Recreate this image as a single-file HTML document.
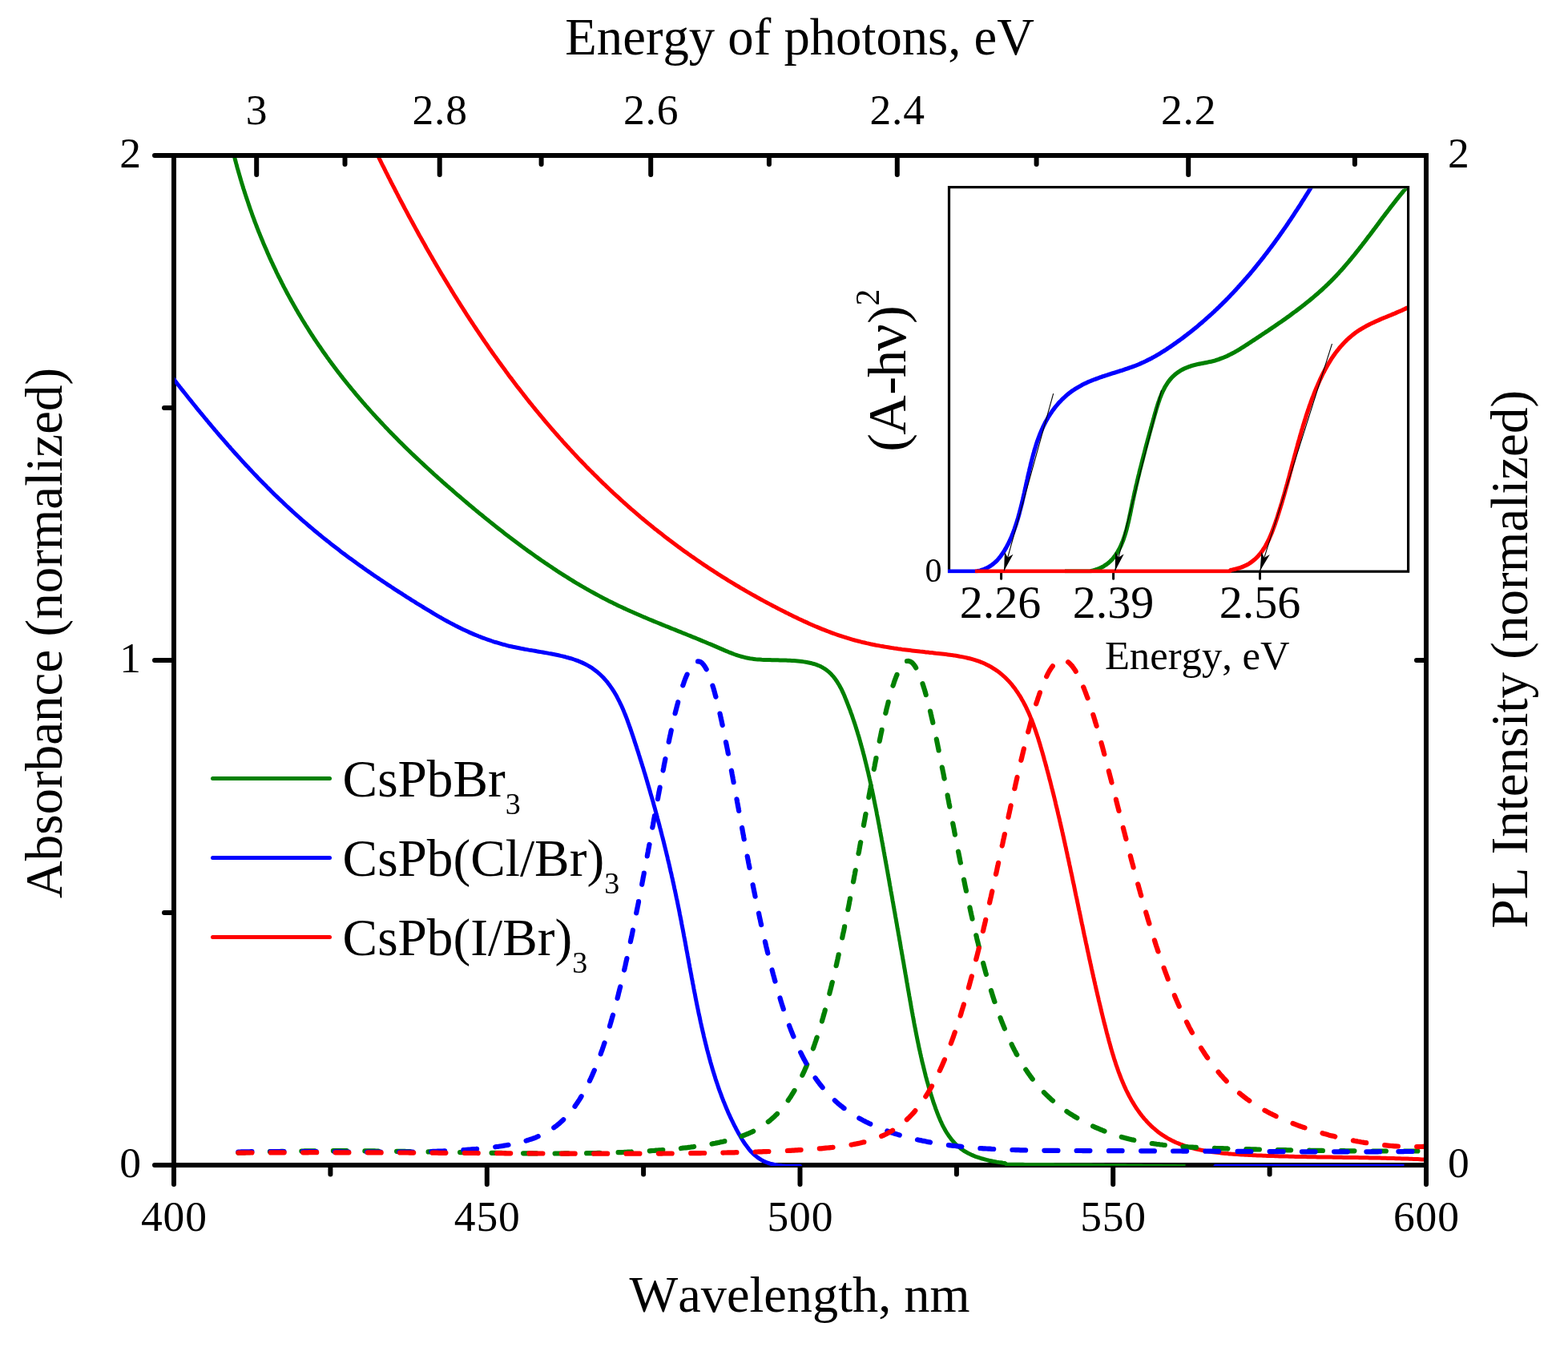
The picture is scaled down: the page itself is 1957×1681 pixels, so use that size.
<!DOCTYPE html>
<html lang="en"><head><meta charset="utf-8"><title>Absorbance and PL spectra</title>
<style>
html,body{margin:0;padding:0;background:#fff;overflow:hidden}
svg{display:block}
text{font-family:"Liberation Serif","DejaVu Serif",serif;fill:#000;font-kerning:none;font-variant-ligatures:none}
.ax{stroke:#000;stroke-width:6;fill:none;stroke-linecap:round}
.c{fill:none;stroke-width:5;stroke-linejoin:round;stroke-linecap:butt}
.d{fill:none;stroke-width:6.2;stroke-linejoin:round;stroke-linecap:round}
.i{fill:none;stroke-width:5.2;stroke-linejoin:round;stroke-linecap:butt}
</style></head><body>
<svg width="1957" height="1681" viewBox="0 0 1957 1681" role="img" aria-label="Absorbance and photoluminescence spectra of CsPbBr3, CsPb(Cl/Br)3 and CsPb(I/Br)3 nanocrystals with Tauc-plot inset">
<rect width="1957" height="1681" fill="#fff"/>
<defs>
<clipPath id="cp"><rect x="218" y="197" width="1559" height="1258"/></clipPath>
<clipPath id="ci"><rect x="1183" y="235.2" width="573" height="480"/></clipPath>
</defs>

<rect x="217" y="194" width="1563" height="1260" fill="none" stroke="#000" stroke-width="6" stroke-linejoin="miter"/>
<path class="ax" d="M217,194H193M217,824H193M217,1454H193M217,509H205M217,1139H205M217.0,1454V1478M607.8,1454V1478M998.5,1454V1478M1389.2,1454V1478M1780.0,1454V1478M412.4,1454V1465.5M803.1,1454V1465.5M1193.9,1454V1465.5M1584.6,1454V1465.5M320.2,194V218M548.7,194V218M812.2,194V218M1119.8,194V218M1483.2,194V218M430.5,194V205M675.6,194V205M959.9,194V205M1293.6,194V205M1690.9,194V205M1780,824H1768"/>
<g clip-path="url(#cp)">
<path class="c" stroke="#008000" d="M291.5,191.8 L292.2,194.2 L292.8,196.6 L293.4,199.0 L294.1,201.5 L294.7,203.9 L295.4,206.3 L296.0,208.7 L296.7,211.1 L297.4,213.5 L298.1,216.0 L298.8,218.4 L299.5,220.8 L300.2,223.2 L300.9,225.6 L301.6,228.0 L302.3,230.4 L303.1,232.8 L303.8,235.2 L304.6,237.5 L305.3,239.9 L306.1,242.3 L306.9,244.7 L307.7,247.1 L308.5,249.5 L309.3,251.8 L310.1,254.2 L310.9,256.6 L311.7,259.0 L312.5,261.3 L313.4,263.7 L314.2,266.0 L315.0,268.4 L315.9,270.8 L316.8,273.1 L317.6,275.5 L318.5,277.8 L319.4,280.1 L320.3,282.5 L321.2,284.8 L322.1,287.2 L323.0,289.5 L324.0,291.8 L324.9,294.1 L325.9,296.5 L326.8,298.8 L327.8,301.1 L328.7,303.4 L329.7,305.7 L330.7,308.0 L331.7,310.3 L332.7,312.6 L333.7,314.9 L334.7,317.2 L335.7,319.5 L336.7,321.8 L337.8,324.1 L338.8,326.4 L339.9,328.6 L340.9,330.9 L342.0,333.2 L343.1,335.4 L344.2,337.7 L345.2,340.0 L346.3,342.2 L347.4,344.5 L348.6,346.7 L349.7,348.9 L350.8,351.2 L351.9,353.4 L353.1,355.6 L354.2,357.9 L355.4,360.1 L356.6,362.3 L357.7,364.5 L358.9,366.7 L360.1,368.9 L361.3,371.1 L362.5,373.3 L363.7,375.5 L365.0,377.7 L366.2,379.9 L367.4,382.1 L368.7,384.3 L369.9,386.4 L371.2,388.6 L372.4,390.8 L373.7,392.9 L375.0,395.1 L376.3,397.2 L377.6,399.4 L378.9,401.5 L380.2,403.6 L381.5,405.8 L382.9,407.9 L384.2,410.0 L385.5,412.1 L386.9,414.3 L388.2,416.4 L389.6,418.5 L391.0,420.6 L392.3,422.7 L393.7,424.7 L395.1,426.8 L396.5,428.9 L397.9,431.0 L399.4,433.0 L400.8,435.1 L402.2,437.2 L403.6,439.2 L405.1,441.3 L406.5,443.3 L408.0,445.4 L409.5,447.4 L410.9,449.4 L412.4,451.4 L413.9,453.5 L415.4,455.5 L416.9,457.5 L418.4,459.5 L419.9,461.5 L421.4,463.5 L422.9,465.5 L424.5,467.4 L426.0,469.4 L427.6,471.4 L429.1,473.4 L430.7,475.3 L432.2,477.3 L433.8,479.2 L435.4,481.2 L437.0,483.1 L438.6,485.1 L440.2,487.0 L441.8,488.9 L443.4,490.9 L445.0,492.8 L446.6,494.7 L448.2,496.6 L449.9,498.5 L451.5,500.4 L453.1,502.3 L454.8,504.2 L456.4,506.1 L458.1,507.9 L459.8,509.8 L461.4,511.7 L463.1,513.6 L464.8,515.4 L466.5,517.3 L468.2,519.1 L469.8,521.0 L471.5,522.8 L473.3,524.6 L475.0,526.5 L476.7,528.3 L478.4,530.1 L480.1,531.9 L481.8,533.8 L483.6,535.6 L485.3,537.4 L487.1,539.2 L488.8,541.0 L490.6,542.8 L492.3,544.6 L494.1,546.3 L495.8,548.1 L497.6,549.9 L499.4,551.7 L501.2,553.4 L503.0,555.2 L504.7,556.9 L506.5,558.7 L508.3,560.5 L510.1,562.2 L511.9,563.9 L513.7,565.7 L515.5,567.4 L517.3,569.1 L519.2,570.9 L521.0,572.6 L522.8,574.3 L524.6,576.0 L526.5,577.7 L528.3,579.4 L530.1,581.1 L532.0,582.8 L533.8,584.5 L535.7,586.2 L537.5,587.9 L539.4,589.6 L541.2,591.3 L543.1,593.0 L545.0,594.7 L546.8,596.3 L548.7,598.0 L550.6,599.7 L552.4,601.3 L554.3,603.0 L556.2,604.6 L558.1,606.3 L560.0,607.9 L561.9,609.6 L563.8,611.2 L565.7,612.9 L567.5,614.5 L569.4,616.2 L571.3,617.8 L573.3,619.4 L575.2,621.0 L577.1,622.7 L579.0,624.3 L580.9,625.9 L582.8,627.5 L584.7,629.1 L586.6,630.8 L588.6,632.4 L590.5,634.0 L592.4,635.6 L594.3,637.2 L596.3,638.8 L598.2,640.4 L600.2,641.9 L602.1,643.5 L604.0,645.1 L606.0,646.7 L607.9,648.3 L609.9,649.8 L611.8,651.4 L613.8,653.0 L615.7,654.5 L617.7,656.1 L619.7,657.7 L621.6,659.2 L623.6,660.8 L625.6,662.3 L627.6,663.8 L629.5,665.4 L631.5,666.9 L633.5,668.4 L635.5,670.0 L637.5,671.5 L639.5,673.0 L641.5,674.5 L643.5,676.0 L645.5,677.5 L647.5,679.0 L649.5,680.5 L651.5,682.0 L653.6,683.5 L655.6,685.0 L657.6,686.4 L659.6,687.9 L661.7,689.4 L663.7,690.8 L665.8,692.3 L667.8,693.7 L669.8,695.2 L671.9,696.6 L674.0,698.1 L676.0,699.5 L678.1,700.9 L680.1,702.3 L682.2,703.7 L684.3,705.1 L686.4,706.5 L688.5,707.9 L690.5,709.3 L692.6,710.7 L694.7,712.1 L696.8,713.5 L698.9,714.8 L701.0,716.2 L703.1,717.5 L705.3,718.9 L707.4,720.2 L709.5,721.5 L711.6,722.8 L713.8,724.2 L715.9,725.5 L718.1,726.8 L720.2,728.1 L722.4,729.3 L724.5,730.6 L726.7,731.9 L728.9,733.1 L731.0,734.4 L733.2,735.6 L735.4,736.9 L737.6,738.1 L739.8,739.3 L742.0,740.5 L744.2,741.7 L746.4,742.9 L748.6,744.1 L750.8,745.3 L753.0,746.4 L755.2,747.6 L757.5,748.7 L759.7,749.9 L761.9,751.0 L764.2,752.1 L766.4,753.2 L768.7,754.3 L770.9,755.4 L773.2,756.5 L775.5,757.5 L777.7,758.6 L780.0,759.6 L782.3,760.7 L784.6,761.7 L786.9,762.8 L789.2,763.8 L791.4,764.8 L793.7,765.8 L796.0,766.8 L798.3,767.8 L800.6,768.8 L802.9,769.8 L805.3,770.7 L807.6,771.7 L809.9,772.7 L812.2,773.7 L814.5,774.6 L816.8,775.6 L819.1,776.5 L821.5,777.5 L823.8,778.4 L826.1,779.4 L828.4,780.3 L830.7,781.3 L833.1,782.2 L835.4,783.1 L837.7,784.1 L840.0,785.0 L842.4,785.9 L844.7,786.9 L847.0,787.8 L849.3,788.7 L851.7,789.7 L854.0,790.6 L856.3,791.5 L858.6,792.5 L861.0,793.4 L863.3,794.4 L865.6,795.3 L867.9,796.2 L870.3,797.2 L872.6,798.1 L874.9,799.1 L877.2,800.1 L879.5,801.0 L881.8,802.0 L884.1,803.0 L886.5,803.9 L888.8,804.9 L891.1,805.9 L893.4,806.9 L895.7,807.9 L898.0,808.9 L900.3,809.9 L902.6,810.9 L904.9,811.9 L907.2,812.8 L909.5,813.8 L911.8,814.7 L914.2,815.6 L916.5,816.5 L918.9,817.3 L921.3,818.1 L923.7,818.8 L926.1,819.5 L928.5,820.1 L930.9,820.7 L933.4,821.2 L935.9,821.7 L938.3,822.1 L940.8,822.4 L943.3,822.7 L945.8,822.9 L948.3,823.1 L950.8,823.3 L953.3,823.4 L955.8,823.5 L958.3,823.6 L960.8,823.6 L963.3,823.7 L965.8,823.7 L968.3,823.8 L970.8,823.8 L973.4,823.9 L975.9,823.9 L978.4,824.0 L980.9,824.1 L983.4,824.2 L985.9,824.3 L988.4,824.4 L990.9,824.6 L993.4,824.8 L995.9,825.0 L998.4,825.2 L1000.9,825.5 L1003.3,825.9 L1005.8,826.3 L1008.3,826.7 L1010.7,827.2 L1013.2,827.8 L1015.6,828.5 L1018.0,829.2 L1020.3,830.1 L1022.7,831.0 L1024.9,832.1 L1027.1,833.3 L1029.3,834.6 L1031.3,836.0 L1033.3,837.6 L1035.2,839.2 L1037.0,840.9 L1038.7,842.8 L1040.4,844.7 L1041.9,846.6 L1043.4,848.7 L1044.8,850.7 L1046.1,852.9 L1047.4,855.0 L1048.6,857.2 L1049.8,859.4 L1050.9,861.7 L1051.9,863.9 L1053.0,866.2 L1054.0,868.5 L1054.9,870.8 L1055.9,873.2 L1056.8,875.5 L1057.7,877.8 L1058.6,880.2 L1059.5,882.5 L1060.4,884.8 L1061.3,887.2 L1062.1,889.6 L1063.0,891.9 L1063.8,894.3 L1064.6,896.7 L1065.4,899.0 L1066.2,901.4 L1067.0,903.8 L1067.8,906.2 L1068.5,908.6 L1069.3,911.0 L1070.0,913.3 L1070.7,915.7 L1071.5,918.1 L1072.2,920.5 L1072.9,923.0 L1073.6,925.4 L1074.2,927.8 L1074.9,930.2 L1075.6,932.6 L1076.2,935.0 L1076.9,937.4 L1077.5,939.9 L1078.2,942.3 L1078.8,944.7 L1079.4,947.1 L1080.0,949.6 L1080.6,952.0 L1081.2,954.4 L1081.8,956.9 L1082.4,959.3 L1083.0,961.8 L1083.6,964.2 L1084.1,966.6 L1084.7,969.1 L1085.2,971.5 L1085.8,974.0 L1086.3,976.4 L1086.9,978.9 L1087.4,981.3 L1087.9,983.8 L1088.5,986.2 L1089.0,988.7 L1089.5,991.1 L1090.0,993.6 L1090.5,996.0 L1091.0,998.5 L1091.5,1000.9 L1092.0,1003.4 L1092.5,1005.9 L1093.0,1008.3 L1093.5,1010.8 L1094.0,1013.2 L1094.4,1015.7 L1094.9,1018.2 L1095.4,1020.6 L1095.9,1023.1 L1096.3,1025.5 L1096.8,1028.0 L1097.3,1030.5 L1097.7,1032.9 L1098.2,1035.4 L1098.6,1037.9 L1099.1,1040.3 L1099.5,1042.8 L1100.0,1045.2 L1100.4,1047.7 L1100.9,1050.2 L1101.3,1052.6 L1101.8,1055.1 L1102.2,1057.6 L1102.7,1060.0 L1103.1,1062.5 L1103.6,1065.0 L1104.0,1067.4 L1104.5,1069.9 L1104.9,1072.4 L1105.3,1074.8 L1105.8,1077.3 L1106.2,1079.8 L1106.7,1082.2 L1107.1,1084.7 L1107.6,1087.2 L1108.0,1089.6 L1108.4,1092.1 L1108.9,1094.6 L1109.3,1097.1 L1109.8,1099.5 L1110.2,1102.0 L1110.6,1104.5 L1111.1,1106.9 L1111.5,1109.4 L1111.9,1111.9 L1112.4,1114.3 L1112.8,1116.8 L1113.3,1119.3 L1113.7,1121.7 L1114.1,1124.2 L1114.6,1126.7 L1115.0,1129.1 L1115.4,1131.6 L1115.9,1134.1 L1116.3,1136.5 L1116.8,1139.0 L1117.2,1141.5 L1117.6,1143.9 L1118.1,1146.4 L1118.5,1148.9 L1118.9,1151.3 L1119.4,1153.8 L1119.8,1156.3 L1120.2,1158.8 L1120.7,1161.2 L1121.1,1163.7 L1121.5,1166.2 L1122.0,1168.6 L1122.4,1171.1 L1122.8,1173.6 L1123.3,1176.0 L1123.7,1178.5 L1124.1,1181.0 L1124.5,1183.4 L1125.0,1185.9 L1125.4,1188.4 L1125.8,1190.8 L1126.3,1193.3 L1126.7,1195.8 L1127.1,1198.3 L1127.6,1200.7 L1128.0,1203.2 L1128.4,1205.7 L1128.8,1208.1 L1129.3,1210.6 L1129.7,1213.1 L1130.1,1215.5 L1130.6,1218.0 L1131.0,1220.5 L1131.4,1223.0 L1131.8,1225.4 L1132.3,1227.9 L1132.7,1230.4 L1133.1,1232.8 L1133.5,1235.3 L1134.0,1237.8 L1134.4,1240.2 L1134.8,1242.7 L1135.3,1245.2 L1135.7,1247.6 L1136.1,1250.1 L1136.6,1252.6 L1137.0,1255.1 L1137.4,1257.5 L1137.9,1260.0 L1138.3,1262.5 L1138.8,1264.9 L1139.2,1267.4 L1139.7,1269.8 L1140.1,1272.3 L1140.6,1274.8 L1141.0,1277.2 L1141.5,1279.7 L1142.0,1282.2 L1142.5,1284.6 L1142.9,1287.1 L1143.4,1289.5 L1143.9,1292.0 L1144.4,1294.5 L1144.9,1296.9 L1145.4,1299.4 L1145.9,1301.8 L1146.4,1304.3 L1146.9,1306.7 L1147.4,1309.2 L1148.0,1311.6 L1148.5,1314.1 L1149.1,1316.5 L1149.6,1319.0 L1150.2,1321.4 L1150.7,1323.9 L1151.3,1326.3 L1151.9,1328.7 L1152.5,1331.2 L1153.1,1333.6 L1153.7,1336.0 L1154.3,1338.5 L1154.9,1340.9 L1155.5,1343.3 L1156.2,1345.8 L1156.8,1348.2 L1157.5,1350.6 L1158.2,1353.0 L1158.8,1355.4 L1159.5,1357.8 L1160.3,1360.2 L1161.0,1362.6 L1161.7,1365.0 L1162.4,1367.4 L1163.2,1369.8 L1164.0,1372.2 L1164.7,1374.6 L1165.5,1377.0 L1166.4,1379.3 L1167.2,1381.7 L1168.0,1384.1 L1168.9,1386.4 L1169.8,1388.8 L1170.7,1391.1 L1171.6,1393.4 L1172.6,1395.7 L1173.5,1398.0 L1174.6,1400.3 L1175.6,1402.6 L1176.7,1404.8 L1177.9,1407.1 L1179.1,1409.3 L1180.3,1411.4 L1181.6,1413.6 L1183.0,1415.7 L1184.4,1417.8 L1185.9,1419.8 L1187.4,1421.8 L1189.0,1423.7 L1190.6,1425.6 L1192.4,1427.4 L1194.2,1429.2 L1196.0,1430.8 L1198.0,1432.4 L1199.9,1434.0 L1202.0,1435.4 L1204.1,1436.8 L1206.3,1438.0 L1208.5,1439.2 L1210.7,1440.3 L1213.0,1441.4 L1215.3,1442.4 L1217.6,1443.3 L1220.0,1444.1 L1222.4,1444.9 L1224.8,1445.7 L1227.2,1446.3 L1229.6,1447.0 L1232.0,1447.6 L1234.5,1448.2 L1236.9,1448.7 L1239.4,1449.2 L1241.8,1449.6 L1244.3,1450.1 L1246.8,1450.5 L1249.3,1450.8 L1251.8,1451.2 L1254.2,1451.5 L1256.7,1453.2 L1259.2,1453.2 L1261.7,1453.2 L1264.2,1453.3 L1266.7,1453.3 L1269.2,1453.3 L1271.7,1453.3 L1274.2,1453.3 L1276.7,1453.3 L1279.2,1453.4 L1281.7,1453.4 L1284.2,1453.4 L1286.7,1453.4 L1289.2,1453.4 L1291.7,1453.4 L1294.2,1453.5 L1296.7,1453.5 L1299.2,1453.5 L1301.7,1453.5 L1304.2,1453.5 L1306.7,1453.6 L1309.2,1453.6 L1311.7,1453.6 L1314.2,1453.6 L1316.7,1453.7 L1319.3,1453.7 L1321.8,1453.7 L1324.3,1453.7 L1326.8,1453.8 L1329.3,1453.8 L1331.8,1453.8 L1334.3,1453.8 L1336.8,1453.9 L1339.3,1453.9 L1341.8,1453.9 L1344.3,1453.9 L1346.8,1454.0 L1349.3,1454.0 L1351.8,1454.0 L1354.3,1454.1 L1356.8,1454.1 L1359.4,1454.1 L1361.9,1454.1 L1364.4,1454.2 L1366.9,1454.2 L1369.4,1454.2 L1371.9,1454.3 L1374.4,1454.3 L1376.9,1454.3 L1379.4,1454.4 L1381.9,1454.4 L1384.4,1454.4 L1386.9,1454.4 L1389.4,1454.5 L1391.9,1454.5 L1394.4,1454.5 L1396.9,1454.6 L1399.4,1454.6 L1402.0,1454.6 L1404.5,1454.6 L1407.0,1454.7 L1409.5,1454.7 L1412.0,1454.7 L1414.5,1454.7 L1417.0,1454.8 L1419.5,1454.8 L1422.0,1454.8 L1424.5,1454.8 L1427.0,1454.9 L1429.5,1454.9 L1432.0,1454.9 L1434.5,1454.9 L1437.0,1455.0 L1439.5,1455.0 L1442.1,1455.0 L1444.6,1455.1 L1447.1,1455.1 L1449.6,1455.1 L1452.1,1455.2 L1454.6,1455.2 L1457.1,1455.2 L1459.6,1455.2 L1462.1,1455.3 L1464.6,1455.3 L1467.1,1455.3 L1469.6,1455.4 L1472.1,1455.4 L1474.6,1455.4 L1477.1,1455.5 L1479.6,1455.5"/>
<path class="c" stroke="#0000ff" d="M214.9,470.6 L216.4,472.6 L217.9,474.6 L219.5,476.6 L221.0,478.5 L222.6,480.5 L224.1,482.5 L225.7,484.4 L227.2,486.4 L228.8,488.4 L230.3,490.3 L231.9,492.3 L233.5,494.3 L235.0,496.2 L236.6,498.2 L238.2,500.1 L239.7,502.1 L241.3,504.0 L242.9,506.0 L244.5,507.9 L246.0,509.9 L247.6,511.8 L249.2,513.7 L250.8,515.7 L252.4,517.6 L254.0,519.5 L255.6,521.5 L257.2,523.4 L258.8,525.3 L260.4,527.3 L262.0,529.2 L263.6,531.1 L265.2,533.0 L266.8,534.9 L268.4,536.8 L270.1,538.7 L271.7,540.7 L273.3,542.6 L275.0,544.5 L276.6,546.4 L278.2,548.2 L279.9,550.1 L281.5,552.0 L283.2,553.9 L284.8,555.8 L286.5,557.7 L288.1,559.6 L289.8,561.4 L291.5,563.3 L293.1,565.2 L294.8,567.0 L296.5,568.9 L298.2,570.7 L299.9,572.6 L301.5,574.4 L303.2,576.3 L304.9,578.1 L306.6,580.0 L308.3,581.8 L310.1,583.6 L311.8,585.5 L313.5,587.3 L315.2,589.1 L316.9,590.9 L318.7,592.7 L320.4,594.5 L322.1,596.4 L323.9,598.2 L325.6,599.9 L327.4,601.7 L329.1,603.5 L330.9,605.3 L332.7,607.1 L334.4,608.9 L336.2,610.6 L338.0,612.4 L339.8,614.2 L341.5,615.9 L343.3,617.7 L345.1,619.4 L346.9,621.1 L348.7,622.9 L350.6,624.6 L352.4,626.3 L354.2,628.1 L356.0,629.8 L357.8,631.5 L359.7,633.2 L361.5,634.9 L363.4,636.6 L365.2,638.3 L367.1,640.0 L368.9,641.6 L370.8,643.3 L372.7,645.0 L374.5,646.6 L376.4,648.3 L378.3,650.0 L380.2,651.6 L382.1,653.2 L384.0,654.9 L385.9,656.5 L387.8,658.1 L389.7,659.7 L391.6,661.3 L393.6,663.0 L395.5,664.5 L397.4,666.1 L399.4,667.7 L401.3,669.3 L403.2,670.9 L405.2,672.5 L407.2,674.0 L409.1,675.6 L411.1,677.1 L413.0,678.7 L415.0,680.2 L417.0,681.8 L419.0,683.3 L421.0,684.8 L423.0,686.3 L424.9,687.9 L426.9,689.4 L428.9,690.9 L431.0,692.4 L433.0,693.9 L435.0,695.4 L437.0,696.9 L439.0,698.3 L441.0,699.8 L443.1,701.3 L445.1,702.8 L447.1,704.2 L449.2,705.7 L451.2,707.1 L453.2,708.6 L455.3,710.0 L457.3,711.5 L459.4,712.9 L461.5,714.3 L463.5,715.8 L465.6,717.2 L467.6,718.6 L469.7,720.0 L471.8,721.4 L473.9,722.8 L475.9,724.2 L478.0,725.6 L480.1,727.0 L482.2,728.4 L484.3,729.8 L486.4,731.2 L488.4,732.5 L490.5,733.9 L492.6,735.3 L494.7,736.7 L496.8,738.0 L499.0,739.4 L501.1,740.7 L503.2,742.1 L505.3,743.4 L507.4,744.8 L509.5,746.1 L511.6,747.4 L513.7,748.8 L515.9,750.1 L518.0,751.4 L520.1,752.8 L522.3,754.1 L524.4,755.4 L526.5,756.7 L528.6,758.0 L530.8,759.3 L532.9,760.6 L535.1,761.9 L537.2,763.2 L539.4,764.5 L541.5,765.8 L543.7,767.1 L545.8,768.3 L548.0,769.6 L550.2,770.8 L552.4,772.1 L554.5,773.3 L556.7,774.5 L558.9,775.7 L561.1,776.9 L563.3,778.1 L565.6,779.2 L567.8,780.4 L570.0,781.5 L572.3,782.7 L574.5,783.8 L576.8,784.9 L579.0,786.0 L581.3,787.0 L583.6,788.1 L585.8,789.1 L588.1,790.1 L590.4,791.1 L592.7,792.1 L595.1,793.0 L597.4,794.0 L599.7,794.9 L602.0,795.8 L604.4,796.7 L606.7,797.5 L609.1,798.4 L611.5,799.2 L613.9,800.0 L616.2,800.8 L618.6,801.5 L621.0,802.2 L623.4,802.9 L625.8,803.6 L628.2,804.3 L630.7,804.9 L633.1,805.6 L635.5,806.2 L638.0,806.7 L640.4,807.3 L642.9,807.8 L645.3,808.3 L647.8,808.8 L650.2,809.3 L652.7,809.7 L655.2,810.2 L657.6,810.6 L660.1,811.1 L662.6,811.5 L665.0,811.9 L667.5,812.3 L670.0,812.8 L672.4,813.2 L674.9,813.6 L677.4,814.0 L679.8,814.5 L682.3,814.9 L684.8,815.4 L687.2,815.8 L689.7,816.3 L692.1,816.8 L694.6,817.3 L697.1,817.8 L699.5,818.4 L701.9,818.9 L704.4,819.5 L706.8,820.2 L709.2,820.8 L711.6,821.5 L714.0,822.2 L716.4,823.0 L718.8,823.8 L721.1,824.7 L723.4,825.6 L725.8,826.6 L728.0,827.6 L730.3,828.7 L732.5,829.9 L734.7,831.1 L736.8,832.4 L739.0,833.7 L741.0,835.2 L743.0,836.7 L745.0,838.2 L746.9,839.8 L748.8,841.5 L750.6,843.2 L752.4,845.0 L754.1,846.8 L755.7,848.7 L757.4,850.6 L758.9,852.6 L760.4,854.5 L761.9,856.6 L763.3,858.6 L764.7,860.7 L766.1,862.8 L767.4,865.0 L768.6,867.1 L769.9,869.3 L771.0,871.5 L772.2,873.8 L773.3,876.0 L774.4,878.3 L775.5,880.5 L776.5,882.8 L777.5,885.1 L778.5,887.4 L779.4,889.7 L780.4,892.0 L781.3,894.4 L782.2,896.7 L783.1,899.1 L783.9,901.4 L784.8,903.8 L785.6,906.1 L786.5,908.5 L787.3,910.9 L788.1,913.2 L788.9,915.6 L789.7,918.0 L790.5,920.4 L791.3,922.7 L792.0,925.1 L792.8,927.5 L793.6,929.9 L794.4,932.3 L795.1,934.6 L795.9,937.0 L796.7,939.4 L797.4,941.8 L798.2,944.2 L798.9,946.6 L799.7,949.0 L800.4,951.4 L801.2,953.8 L801.9,956.1 L802.7,958.5 L803.4,960.9 L804.1,963.3 L804.9,965.7 L805.6,968.1 L806.3,970.5 L807.0,972.9 L807.7,975.3 L808.4,977.7 L809.1,980.1 L809.8,982.5 L810.5,984.9 L811.2,987.3 L811.9,989.8 L812.6,992.2 L813.3,994.6 L814.0,997.0 L814.7,999.4 L815.4,1001.8 L816.0,1004.2 L816.7,1006.6 L817.4,1009.0 L818.0,1011.5 L818.7,1013.9 L819.3,1016.3 L820.0,1018.7 L820.6,1021.1 L821.3,1023.6 L821.9,1026.0 L822.6,1028.4 L823.2,1030.8 L823.8,1033.2 L824.5,1035.7 L825.1,1038.1 L825.7,1040.5 L826.3,1042.9 L827.0,1045.4 L827.6,1047.8 L828.2,1050.2 L828.8,1052.7 L829.4,1055.1 L830.0,1057.5 L830.6,1060.0 L831.2,1062.4 L831.8,1064.8 L832.4,1067.3 L833.0,1069.7 L833.5,1072.1 L834.1,1074.6 L834.7,1077.0 L835.3,1079.5 L835.8,1081.9 L836.4,1084.3 L836.9,1086.8 L837.5,1089.2 L838.1,1091.7 L838.6,1094.1 L839.2,1096.6 L839.7,1099.0 L840.2,1101.4 L840.8,1103.9 L841.3,1106.3 L841.8,1108.8 L842.4,1111.2 L842.9,1113.7 L843.4,1116.1 L843.9,1118.6 L844.4,1121.0 L845.0,1123.5 L845.5,1125.9 L846.0,1128.4 L846.5,1130.9 L847.0,1133.3 L847.5,1135.8 L848.0,1138.2 L848.4,1140.7 L848.9,1143.1 L849.4,1145.6 L849.9,1148.1 L850.4,1150.5 L850.8,1153.0 L851.3,1155.4 L851.8,1157.9 L852.3,1160.4 L852.7,1162.8 L853.2,1165.3 L853.6,1167.7 L854.1,1170.2 L854.6,1172.7 L855.0,1175.1 L855.5,1177.6 L855.9,1180.1 L856.4,1182.5 L856.8,1185.0 L857.3,1187.4 L857.8,1189.9 L858.2,1192.4 L858.7,1194.8 L859.1,1197.3 L859.6,1199.8 L860.0,1202.2 L860.5,1204.7 L860.9,1207.2 L861.4,1209.6 L861.8,1212.1 L862.3,1214.5 L862.8,1217.0 L863.2,1219.5 L863.7,1221.9 L864.2,1224.4 L864.6,1226.9 L865.1,1229.3 L865.6,1231.8 L866.0,1234.2 L866.5,1236.7 L867.0,1239.2 L867.5,1241.6 L867.9,1244.1 L868.4,1246.5 L868.9,1249.0 L869.4,1251.4 L869.9,1253.9 L870.4,1256.4 L870.9,1258.8 L871.4,1261.3 L871.9,1263.7 L872.4,1266.2 L873.0,1268.6 L873.5,1271.1 L874.0,1273.5 L874.5,1276.0 L875.1,1278.4 L875.6,1280.9 L876.2,1283.3 L876.7,1285.7 L877.3,1288.2 L877.9,1290.6 L878.4,1293.1 L879.0,1295.5 L879.6,1297.9 L880.2,1300.4 L880.8,1302.8 L881.4,1305.2 L882.0,1307.7 L882.6,1310.1 L883.3,1312.5 L883.9,1314.9 L884.6,1317.4 L885.2,1319.8 L885.9,1322.2 L886.5,1324.6 L887.2,1327.0 L887.9,1329.4 L888.6,1331.8 L889.3,1334.2 L890.0,1336.6 L890.8,1339.0 L891.5,1341.4 L892.3,1343.8 L893.0,1346.2 L893.8,1348.6 L894.6,1351.0 L895.4,1353.3 L896.2,1355.7 L897.0,1358.1 L897.8,1360.4 L898.7,1362.8 L899.6,1365.1 L900.4,1367.5 L901.3,1369.8 L902.2,1372.2 L903.1,1374.5 L904.1,1376.8 L905.0,1379.1 L906.0,1381.5 L906.9,1383.8 L907.9,1386.1 L908.9,1388.4 L909.9,1390.7 L911.0,1392.9 L912.0,1395.2 L913.1,1397.5 L914.2,1399.7 L915.3,1402.0 L916.4,1404.2 L917.6,1406.4 L918.7,1408.7 L919.9,1410.9 L921.1,1413.1 L922.3,1415.3 L923.6,1417.4 L924.8,1419.6 L926.1,1421.7 L927.4,1423.9 L928.8,1426.0 L930.2,1428.1 L931.7,1430.1 L933.2,1432.1 L934.7,1434.1 L936.3,1436.0 L938.0,1437.8 L939.8,1439.6 L941.6,1441.3 L943.6,1442.9 L945.5,1444.4 L947.6,1445.9 L949.7,1447.2 L951.9,1448.4 L954.2,1449.5 L956.5,1450.5 L958.8,1451.3 L961.2,1452.1 L963.6,1452.7 L966.1,1453.3 L968.5,1453.8 L971.0,1454.2 L973.5,1454.5 L976.0,1454.8 L978.5,1455.0 L981.0,1455.2 L983.5,1455.3 L986.0,1455.3 L988.5,1455.3 L991.0,1455.3 L993.5,1455.3 L996.0,1455.3 L998.5,1455.3 L1001.0,1458.5 L1003.5,1458.5 L1006.0,1458.5 L1008.5,1458.5 L1011.0,1458.5 L1013.5,1458.5 L1016.0,1458.5 L1018.5,1458.5 L1021.0,1458.5 L1023.5,1458.5 L1026.0,1458.5 L1028.6,1458.5 L1031.1,1458.5 L1033.6,1458.5 L1036.1,1458.5 L1038.6,1458.5 L1041.1,1458.5 L1043.6,1458.5 L1046.1,1458.5 L1048.6,1458.5 L1051.1,1458.5 L1053.6,1458.5 L1056.1,1458.5 L1058.6,1458.5 L1061.1,1458.5 L1063.6,1458.5 L1066.1,1458.5 L1068.6,1458.5 L1071.1,1458.5 L1073.6,1458.5 L1076.2,1458.5 L1078.7,1458.5 L1081.2,1458.5 L1083.7,1458.5 L1086.2,1458.5 L1088.7,1458.5 L1091.2,1458.5 L1093.7,1458.5 L1096.2,1458.5 L1098.7,1458.5 L1101.2,1458.5 L1103.7,1458.5 L1106.2,1458.5 L1108.7,1458.5 L1111.2,1458.5 L1113.7,1458.5 L1116.2,1458.5 L1118.7,1458.5 L1121.2,1458.5 L1123.7,1458.5 L1126.3,1458.5 L1128.8,1458.5 L1131.3,1458.5 L1133.8,1458.5 L1136.3,1458.5 L1138.8,1458.5 L1141.3,1458.5 L1143.8,1458.5 L1146.3,1458.5 L1148.8,1458.5 L1151.3,1458.5 L1153.8,1458.5 L1156.3,1458.5 L1158.8,1458.5 L1161.3,1458.5 L1163.8,1458.5 L1166.3,1458.5 L1168.8,1458.5 L1171.3,1458.5 L1173.9,1458.5 L1176.4,1458.5 L1178.9,1458.5 L1181.4,1458.5 L1183.9,1458.5 L1186.4,1458.5 L1188.9,1458.5 L1191.4,1458.5 L1193.9,1458.5 L1196.4,1458.5 L1198.9,1458.5 L1201.4,1458.5 L1203.9,1458.5 L1206.4,1458.5 L1208.9,1458.5 L1211.4,1458.5 L1213.9,1458.5 L1216.4,1458.5 L1218.9,1458.5 L1221.4,1458.5 L1224.0,1458.5 L1226.5,1458.5 L1229.0,1458.5 L1231.5,1458.5 L1234.0,1458.5 L1236.5,1458.5 L1239.0,1458.5 L1241.5,1458.5 L1244.0,1458.5 L1246.5,1458.5 L1249.0,1458.5 L1251.5,1458.5 L1254.0,1458.5 L1256.5,1458.5 L1259.0,1458.5 L1261.5,1458.5 L1264.0,1458.5 L1266.5,1458.5 L1269.0,1458.5 L1271.6,1458.5 L1274.1,1458.5 L1276.6,1458.5 L1279.1,1458.5 L1281.6,1458.5 L1284.1,1458.5 L1286.6,1458.5 L1289.1,1458.5 L1291.6,1458.5 L1294.1,1458.5 L1296.6,1458.5 L1299.1,1458.5 L1301.6,1458.5 L1304.1,1458.5 L1306.6,1458.5 L1309.1,1458.5 L1311.6,1458.5 L1314.1,1458.5 L1316.6,1458.5 L1319.2,1458.5 L1321.7,1458.5 L1324.2,1458.5 L1326.7,1458.5 L1329.2,1458.5 L1331.7,1458.5 L1334.2,1458.5 L1336.7,1458.5 L1339.2,1458.5 L1341.7,1458.5 L1344.2,1458.5 L1346.7,1458.5 L1349.2,1458.5 L1351.7,1458.5 L1354.2,1458.5 L1356.7,1458.5 L1359.2,1458.5 L1361.7,1458.5 L1364.2,1458.5 L1366.7,1458.5 L1369.3,1458.5 L1371.8,1458.5 L1374.3,1458.5 L1376.8,1458.5 L1379.3,1458.5 L1381.8,1458.5 L1384.3,1458.5 L1386.8,1458.5 L1389.3,1458.5 L1391.8,1458.5 L1394.3,1458.5 L1396.8,1458.5 L1399.3,1458.5 L1401.8,1458.5 L1404.3,1458.5 L1406.8,1458.5 L1409.3,1458.5 L1411.8,1458.5 L1414.3,1458.5 L1416.9,1458.5 L1419.4,1458.5 L1421.9,1458.5 L1424.4,1458.5 L1426.9,1458.5 L1429.4,1458.5 L1431.9,1458.5 L1434.4,1458.5 L1436.9,1458.5 L1439.4,1458.5 L1441.9,1458.5 L1444.4,1458.5 L1446.9,1458.5 L1449.4,1458.5 L1451.9,1458.5 L1454.4,1458.5 L1456.9,1458.5 L1459.4,1458.5 L1461.9,1458.5 L1464.4,1458.5 L1467.0,1458.5 L1469.5,1458.5 L1472.0,1458.5 L1474.5,1458.5 L1477.0,1458.5 L1479.5,1458.5 L1482.0,1458.5 L1484.5,1458.5 L1487.0,1458.5 L1489.5,1458.5 L1492.0,1458.5 L1494.5,1458.5 L1497.0,1458.5 L1499.5,1458.5 L1502.0,1458.5 L1504.5,1458.5 L1507.0,1458.5 L1509.5,1458.5 L1512.0,1458.5 L1514.6,1458.5 L1517.1,1455.3 L1519.6,1455.3 L1522.1,1455.3 L1524.6,1455.3 L1527.1,1455.3 L1529.6,1455.3 L1532.1,1455.3 L1534.6,1455.3 L1537.1,1455.3 L1539.6,1455.3 L1542.1,1455.3 L1544.6,1455.3 L1547.1,1455.3 L1549.6,1455.3 L1552.1,1455.3 L1554.6,1455.3 L1557.1,1455.3 L1559.6,1455.3 L1562.2,1455.3 L1564.7,1455.3 L1567.2,1455.3 L1569.7,1455.3 L1572.2,1455.3 L1574.7,1455.3 L1577.2,1455.3 L1579.7,1455.3 L1582.2,1455.3 L1584.7,1455.3 L1587.2,1455.3 L1589.7,1455.3 L1592.2,1455.3 L1594.7,1455.3 L1597.2,1455.3 L1599.7,1455.3 L1602.2,1455.3 L1604.7,1455.3 L1607.2,1455.3 L1609.7,1455.3 L1612.3,1455.3 L1614.8,1455.3 L1617.3,1455.3 L1619.8,1455.3 L1622.3,1455.3 L1624.8,1455.3 L1627.3,1455.3 L1629.8,1455.3 L1632.3,1455.3 L1634.8,1455.3 L1637.3,1455.3 L1639.8,1455.3 L1642.3,1455.3 L1644.8,1455.3 L1647.3,1455.3 L1649.8,1455.3 L1652.3,1455.3 L1654.8,1455.3 L1657.3,1455.3 L1659.9,1455.3 L1662.4,1455.3 L1664.9,1455.3 L1667.4,1455.3 L1669.9,1455.3 L1672.4,1455.3 L1674.9,1455.3 L1677.4,1455.3 L1679.9,1455.3 L1682.4,1455.3 L1684.9,1455.3 L1687.4,1455.3 L1689.9,1455.3 L1692.4,1455.3 L1694.9,1455.3 L1697.4,1455.3 L1699.9,1455.3 L1702.4,1455.3 L1704.9,1455.3 L1707.4,1455.3 L1710.0,1455.3 L1712.5,1455.3 L1715.0,1455.3 L1717.5,1455.3 L1720.0,1455.3 L1722.5,1455.3 L1725.0,1455.3 L1727.5,1455.3 L1730.0,1455.3 L1732.5,1455.3 L1735.0,1455.3 L1737.5,1455.3 L1740.0,1455.3 L1742.5,1455.3 L1745.0,1455.3 L1747.5,1455.3 L1750.0,1455.3 L1752.5,1455.3"/>
<path class="c" stroke="#ff0000" d="M470.6,192.2 L471.7,194.5 L472.8,196.7 L473.9,199.0 L475.0,201.2 L476.1,203.5 L477.2,205.7 L478.4,207.9 L479.5,210.2 L480.6,212.4 L481.7,214.7 L482.9,216.9 L484.0,219.1 L485.1,221.4 L486.3,223.6 L487.4,225.8 L488.5,228.1 L489.7,230.3 L490.8,232.5 L492.0,234.7 L493.1,237.0 L494.3,239.2 L495.4,241.4 L496.6,243.6 L497.7,245.9 L498.9,248.1 L500.0,250.3 L501.2,252.5 L502.4,254.7 L503.6,257.0 L504.7,259.2 L505.9,261.4 L507.1,263.6 L508.3,265.8 L509.4,268.0 L510.6,270.2 L511.8,272.4 L513.0,274.6 L514.2,276.8 L515.4,279.0 L516.6,281.2 L517.8,283.4 L519.0,285.6 L520.2,287.8 L521.4,290.0 L522.6,292.2 L523.8,294.4 L525.1,296.6 L526.3,298.8 L527.5,301.0 L528.7,303.1 L530.0,305.3 L531.2,307.5 L532.4,309.7 L533.7,311.9 L534.9,314.0 L536.2,316.2 L537.4,318.4 L538.7,320.6 L539.9,322.7 L541.2,324.9 L542.4,327.1 L543.7,329.2 L544.9,331.4 L546.2,333.5 L547.5,335.7 L548.8,337.9 L550.0,340.0 L551.3,342.2 L552.6,344.3 L553.9,346.5 L555.2,348.6 L556.5,350.8 L557.8,352.9 L559.1,355.1 L560.4,357.2 L561.7,359.3 L563.0,361.5 L564.3,363.6 L565.6,365.7 L566.9,367.9 L568.2,370.0 L569.6,372.1 L570.9,374.2 L572.2,376.4 L573.6,378.5 L574.9,380.6 L576.2,382.7 L577.6,384.8 L578.9,386.9 L580.3,389.0 L581.6,391.2 L583.0,393.3 L584.4,395.4 L585.7,397.5 L587.1,399.6 L588.5,401.7 L589.9,403.7 L591.2,405.8 L592.6,407.9 L594.0,410.0 L595.4,412.1 L596.8,414.2 L598.2,416.3 L599.6,418.3 L601.0,420.4 L602.4,422.5 L603.8,424.5 L605.2,426.6 L606.7,428.7 L608.1,430.7 L609.5,432.8 L610.9,434.9 L612.4,436.9 L613.8,439.0 L615.2,441.0 L616.7,443.1 L618.1,445.1 L619.6,447.1 L621.1,449.2 L622.5,451.2 L624.0,453.2 L625.5,455.3 L626.9,457.3 L628.4,459.3 L629.9,461.3 L631.4,463.4 L632.9,465.4 L634.3,467.4 L635.8,469.4 L637.3,471.4 L638.9,473.4 L640.4,475.4 L641.9,477.4 L643.4,479.4 L644.9,481.4 L646.4,483.4 L648.0,485.4 L649.5,487.3 L651.0,489.3 L652.6,491.3 L654.1,493.3 L655.7,495.2 L657.2,497.2 L658.8,499.2 L660.3,501.1 L661.9,503.1 L663.5,505.0 L665.0,507.0 L666.6,508.9 L668.2,510.9 L669.8,512.8 L671.4,514.7 L673.0,516.7 L674.6,518.6 L676.2,520.5 L677.8,522.4 L679.4,524.4 L681.0,526.3 L682.6,528.2 L684.3,530.1 L685.9,532.0 L687.5,533.9 L689.2,535.8 L690.8,537.7 L692.5,539.6 L694.1,541.5 L695.8,543.3 L697.4,545.2 L699.1,547.1 L700.8,548.9 L702.4,550.8 L704.1,552.7 L705.8,554.5 L707.5,556.4 L709.2,558.2 L710.9,560.1 L712.6,561.9 L714.3,563.8 L716.0,565.6 L717.7,567.4 L719.4,569.2 L721.1,571.1 L722.8,572.9 L724.6,574.7 L726.3,576.5 L728.0,578.3 L729.8,580.1 L731.5,581.9 L733.3,583.7 L735.0,585.5 L736.8,587.3 L738.6,589.0 L740.3,590.8 L742.1,592.6 L743.9,594.3 L745.7,596.1 L747.5,597.9 L749.2,599.6 L751.0,601.4 L752.8,603.1 L754.7,604.8 L756.5,606.6 L758.3,608.3 L760.1,610.0 L761.9,611.7 L763.7,613.4 L765.6,615.2 L767.4,616.9 L769.3,618.6 L771.1,620.2 L773.0,621.9 L774.8,623.6 L776.7,625.3 L778.5,627.0 L780.4,628.6 L782.3,630.3 L784.1,632.0 L786.0,633.6 L787.9,635.3 L789.8,636.9 L791.7,638.5 L793.6,640.2 L795.5,641.8 L797.4,643.4 L799.3,645.1 L801.2,646.7 L803.2,648.3 L805.1,649.9 L807.0,651.5 L809.0,653.1 L810.9,654.6 L812.8,656.2 L814.8,657.8 L816.7,659.4 L818.7,660.9 L820.7,662.5 L822.6,664.1 L824.6,665.6 L826.6,667.1 L828.5,668.7 L830.5,670.2 L832.5,671.7 L834.5,673.3 L836.5,674.8 L838.5,676.3 L840.5,677.8 L842.5,679.3 L844.5,680.8 L846.5,682.3 L848.6,683.7 L850.6,685.2 L852.6,686.7 L854.6,688.2 L856.7,689.6 L858.7,691.1 L860.8,692.5 L862.8,694.0 L864.9,695.4 L866.9,696.8 L869.0,698.3 L871.0,699.7 L873.1,701.1 L875.2,702.5 L877.2,703.9 L879.3,705.3 L881.4,706.7 L883.5,708.1 L885.6,709.5 L887.7,710.8 L889.8,712.2 L891.9,713.6 L894.0,714.9 L896.1,716.3 L898.2,717.6 L900.3,719.0 L902.5,720.3 L904.6,721.6 L906.7,722.9 L908.8,724.3 L911.0,725.6 L913.1,726.9 L915.2,728.2 L917.4,729.5 L919.5,730.8 L921.7,732.0 L923.8,733.3 L926.0,734.6 L928.2,735.8 L930.3,737.1 L932.5,738.4 L934.7,739.6 L936.9,740.9 L939.0,742.1 L941.2,743.3 L943.4,744.5 L945.6,745.8 L947.8,747.0 L950.0,748.2 L952.2,749.4 L954.4,750.6 L956.6,751.8 L958.8,752.9 L961.0,754.1 L963.2,755.3 L965.4,756.5 L967.7,757.6 L969.9,758.8 L972.1,759.9 L974.3,761.1 L976.6,762.2 L978.8,763.3 L981.0,764.5 L983.3,765.6 L985.5,766.7 L987.8,767.8 L990.0,768.9 L992.3,770.0 L994.5,771.1 L996.8,772.2 L999.1,773.2 L1001.3,774.3 L1003.6,775.4 L1005.9,776.4 L1008.2,777.4 L1010.4,778.5 L1012.7,779.5 L1015.0,780.5 L1017.3,781.5 L1019.6,782.4 L1021.9,783.4 L1024.3,784.4 L1026.6,785.3 L1028.9,786.2 L1031.2,787.1 L1033.6,788.0 L1035.9,788.9 L1038.3,789.8 L1040.6,790.7 L1043.0,791.5 L1045.4,792.3 L1047.7,793.1 L1050.1,793.9 L1052.5,794.7 L1054.9,795.4 L1057.3,796.2 L1059.7,796.9 L1062.1,797.6 L1064.5,798.3 L1066.9,799.0 L1069.3,799.6 L1071.7,800.2 L1074.2,800.9 L1076.6,801.5 L1079.0,802.0 L1081.5,802.6 L1083.9,803.1 L1086.4,803.7 L1088.8,804.2 L1091.3,804.7 L1093.7,805.2 L1096.2,805.6 L1098.7,806.1 L1101.1,806.5 L1103.6,807.0 L1106.1,807.4 L1108.5,807.8 L1111.0,808.2 L1113.5,808.6 L1116.0,809.0 L1118.4,809.3 L1120.9,809.7 L1123.4,810.0 L1125.9,810.4 L1128.4,810.7 L1130.8,811.0 L1133.3,811.3 L1135.8,811.6 L1138.3,811.9 L1140.8,812.2 L1143.3,812.5 L1145.8,812.8 L1148.3,813.1 L1150.8,813.3 L1153.2,813.6 L1155.7,813.9 L1158.2,814.1 L1160.7,814.4 L1163.2,814.6 L1165.7,814.9 L1168.2,815.2 L1170.7,815.4 L1173.2,815.7 L1175.7,816.0 L1178.2,816.3 L1180.6,816.6 L1183.1,816.9 L1185.6,817.2 L1188.1,817.6 L1190.6,817.9 L1193.0,818.3 L1195.5,818.7 L1198.0,819.2 L1200.4,819.6 L1202.9,820.1 L1205.4,820.6 L1207.8,821.2 L1210.2,821.8 L1212.6,822.4 L1215.1,823.1 L1217.5,823.8 L1219.8,824.6 L1222.2,825.4 L1224.5,826.3 L1226.9,827.3 L1229.1,828.3 L1231.4,829.4 L1233.6,830.5 L1235.8,831.7 L1238.0,833.0 L1240.1,834.3 L1242.2,835.7 L1244.3,837.1 L1246.3,838.6 L1248.3,840.1 L1250.2,841.7 L1252.1,843.3 L1254.0,845.0 L1255.8,846.8 L1257.5,848.5 L1259.3,850.4 L1260.9,852.2 L1262.6,854.1 L1264.1,856.1 L1265.7,858.1 L1267.2,860.1 L1268.6,862.1 L1270.1,864.2 L1271.4,866.3 L1272.8,868.4 L1274.1,870.5 L1275.3,872.7 L1276.6,874.9 L1277.8,877.1 L1278.9,879.3 L1280.1,881.5 L1281.2,883.8 L1282.2,886.0 L1283.3,888.3 L1284.3,890.6 L1285.3,892.9 L1286.2,895.2 L1287.2,897.5 L1288.1,899.9 L1289.0,902.2 L1289.9,904.5 L1290.7,906.9 L1291.6,909.3 L1292.4,911.6 L1293.2,914.0 L1294.0,916.4 L1294.8,918.7 L1295.6,921.1 L1296.3,923.5 L1297.0,925.9 L1297.8,928.3 L1298.5,930.7 L1299.2,933.1 L1299.9,935.5 L1300.6,937.9 L1301.3,940.3 L1302.0,942.7 L1302.7,945.2 L1303.3,947.6 L1304.0,950.0 L1304.7,952.4 L1305.3,954.8 L1306.0,957.2 L1306.6,959.6 L1307.3,962.1 L1307.9,964.5 L1308.6,966.9 L1309.2,969.3 L1309.8,971.8 L1310.5,974.2 L1311.1,976.6 L1311.7,979.0 L1312.3,981.5 L1312.9,983.9 L1313.6,986.3 L1314.2,988.8 L1314.8,991.2 L1315.4,993.6 L1316.0,996.0 L1316.6,998.5 L1317.2,1000.9 L1317.7,1003.3 L1318.3,1005.8 L1318.9,1008.2 L1319.5,1010.7 L1320.1,1013.1 L1320.6,1015.5 L1321.2,1018.0 L1321.8,1020.4 L1322.4,1022.9 L1322.9,1025.3 L1323.5,1027.7 L1324.0,1030.2 L1324.6,1032.6 L1325.2,1035.1 L1325.7,1037.5 L1326.3,1039.9 L1326.8,1042.4 L1327.4,1044.8 L1327.9,1047.3 L1328.4,1049.7 L1329.0,1052.2 L1329.5,1054.6 L1330.1,1057.1 L1330.6,1059.5 L1331.1,1062.0 L1331.7,1064.4 L1332.2,1066.9 L1332.7,1069.3 L1333.3,1071.8 L1333.8,1074.2 L1334.3,1076.6 L1334.8,1079.1 L1335.4,1081.5 L1335.9,1084.0 L1336.4,1086.4 L1336.9,1088.9 L1337.5,1091.3 L1338.0,1093.8 L1338.5,1096.2 L1339.0,1098.7 L1339.5,1101.2 L1340.1,1103.6 L1340.6,1106.1 L1341.1,1108.5 L1341.6,1111.0 L1342.1,1113.4 L1342.6,1115.9 L1343.1,1118.3 L1343.7,1120.8 L1344.2,1123.2 L1344.7,1125.7 L1345.2,1128.1 L1345.7,1130.6 L1346.2,1133.0 L1346.7,1135.5 L1347.3,1137.9 L1347.8,1140.4 L1348.3,1142.8 L1348.8,1145.3 L1349.3,1147.7 L1349.8,1150.2 L1350.3,1152.6 L1350.9,1155.1 L1351.4,1157.5 L1351.9,1160.0 L1352.4,1162.4 L1352.9,1164.9 L1353.4,1167.3 L1354.0,1169.8 L1354.5,1172.2 L1355.0,1174.7 L1355.5,1177.1 L1356.1,1179.6 L1356.6,1182.0 L1357.1,1184.5 L1357.6,1186.9 L1358.2,1189.4 L1358.7,1191.8 L1359.2,1194.3 L1359.7,1196.7 L1360.3,1199.2 L1360.8,1201.6 L1361.4,1204.1 L1361.9,1206.5 L1362.4,1209.0 L1363.0,1211.4 L1363.5,1213.9 L1364.1,1216.3 L1364.6,1218.8 L1365.2,1221.2 L1365.7,1223.6 L1366.3,1226.1 L1366.8,1228.5 L1367.4,1231.0 L1367.9,1233.4 L1368.5,1235.9 L1369.1,1238.3 L1369.6,1240.7 L1370.2,1243.2 L1370.8,1245.6 L1371.3,1248.1 L1371.9,1250.5 L1372.5,1252.9 L1373.1,1255.4 L1373.7,1257.8 L1374.2,1260.2 L1374.8,1262.7 L1375.4,1265.1 L1376.0,1267.5 L1376.6,1270.0 L1377.2,1272.4 L1377.8,1274.8 L1378.4,1277.3 L1379.1,1279.7 L1379.7,1282.1 L1380.3,1284.5 L1380.9,1287.0 L1381.5,1289.4 L1382.2,1291.8 L1382.8,1294.2 L1383.5,1296.7 L1384.1,1299.1 L1384.8,1301.5 L1385.5,1303.9 L1386.1,1306.3 L1386.8,1308.7 L1387.5,1311.1 L1388.2,1313.5 L1388.9,1315.9 L1389.7,1318.3 L1390.4,1320.7 L1391.2,1323.1 L1392.0,1325.5 L1392.7,1327.9 L1393.5,1330.2 L1394.4,1332.6 L1395.2,1335.0 L1396.0,1337.3 L1396.9,1339.7 L1397.8,1342.0 L1398.7,1344.4 L1399.6,1346.7 L1400.6,1349.0 L1401.5,1351.3 L1402.5,1353.6 L1403.5,1355.9 L1404.6,1358.2 L1405.6,1360.5 L1406.7,1362.7 L1407.9,1365.0 L1409.0,1367.2 L1410.2,1369.4 L1411.4,1371.6 L1412.6,1373.8 L1413.9,1375.9 L1415.2,1378.1 L1416.5,1380.2 L1417.9,1382.3 L1419.3,1384.4 L1420.7,1386.4 L1422.2,1388.5 L1423.7,1390.5 L1425.2,1392.5 L1426.8,1394.4 L1428.4,1396.3 L1430.1,1398.2 L1431.7,1400.0 L1433.5,1401.9 L1435.2,1403.6 L1437.0,1405.4 L1438.9,1407.1 L1440.8,1408.7 L1442.7,1410.3 L1444.6,1411.9 L1446.6,1413.4 L1448.6,1414.9 L1450.7,1416.3 L1452.8,1417.7 L1454.9,1419.0 L1457.1,1420.3 L1459.3,1421.6 L1461.5,1422.7 L1463.7,1423.9 L1466.0,1424.9 L1468.2,1426.0 L1470.6,1426.9 L1472.9,1427.9 L1475.2,1428.7 L1477.6,1429.6 L1480.0,1430.4 L1482.4,1431.1 L1484.8,1431.8 L1487.2,1432.5 L1489.6,1433.1 L1492.0,1433.7 L1494.5,1434.2 L1496.9,1434.8 L1499.4,1435.3 L1501.8,1435.7 L1504.3,1436.2 L1506.8,1436.6 L1509.3,1437.0 L1511.7,1437.4 L1514.2,1437.7 L1516.7,1438.0 L1519.2,1438.3 L1521.7,1438.6 L1524.2,1438.9 L1526.7,1439.2 L1529.1,1439.4 L1531.6,1439.6 L1534.1,1439.9 L1536.6,1440.1 L1539.1,1440.2 L1541.6,1440.4 L1544.1,1440.6 L1546.6,1440.8 L1549.1,1440.9 L1551.6,1441.1 L1554.1,1441.2 L1556.6,1441.3 L1559.1,1441.5 L1561.6,1441.6 L1564.1,1441.7 L1566.6,1441.8 L1569.1,1441.9 L1571.7,1442.0 L1574.2,1442.1 L1576.7,1442.2 L1579.2,1442.3 L1581.7,1442.4 L1584.2,1442.5 L1586.7,1442.6 L1589.2,1442.6 L1591.7,1442.7 L1594.2,1442.8 L1596.7,1442.9 L1599.2,1442.9 L1601.7,1443.0 L1604.2,1443.1 L1606.7,1443.1 L1609.2,1443.2 L1611.7,1443.2 L1614.2,1443.3 L1616.7,1443.4 L1619.2,1443.4 L1621.7,1443.5 L1624.2,1443.5 L1626.7,1443.6 L1629.2,1443.6 L1631.8,1443.7 L1634.3,1443.7 L1636.8,1443.7 L1639.3,1443.8 L1641.8,1443.8 L1644.3,1443.9 L1646.8,1443.9 L1649.3,1443.9 L1651.8,1444.0 L1654.3,1444.0 L1656.8,1444.1 L1659.3,1444.1 L1661.8,1444.1 L1664.3,1444.2 L1666.8,1444.2 L1669.3,1444.2 L1671.8,1444.3 L1674.3,1444.3 L1676.8,1444.4 L1679.3,1444.4 L1681.8,1444.4 L1684.4,1444.5 L1686.9,1444.5 L1689.4,1444.5 L1691.9,1444.6 L1694.4,1444.6 L1696.9,1444.7 L1699.4,1444.7 L1701.9,1444.7 L1704.4,1444.8 L1706.9,1444.8 L1709.4,1444.9 L1711.9,1444.9 L1714.4,1445.0 L1716.9,1445.0 L1719.4,1445.1 L1721.9,1445.1 L1724.4,1445.2 L1726.9,1445.3 L1729.4,1445.3 L1731.9,1445.4 L1734.4,1445.4 L1736.9,1445.5 L1739.5,1445.6 L1742.0,1445.7 L1744.5,1445.7 L1747.0,1445.8 L1749.5,1445.9 L1752.0,1446.0 L1754.5,1446.1 L1757.0,1446.1 L1759.5,1446.2 L1762.0,1446.3 L1764.5,1446.4 L1767.0,1446.5 L1769.5,1446.6 L1772.0,1446.7 L1774.5,1446.9 L1777.0,1447.0 L1779.5,1447.1"/>
<path class="d" stroke="#008000" d="M297.4,1438.6 L299.4,1438.5 L301.4,1438.4 L303.4,1438.4 L305.4,1438.3 L307.4,1438.2 L309.4,1438.1 L311.4,1438.1 L313.4,1438.0 L313.9,1438.0M336.9,1437.2 L338.9,1437.2 L340.9,1437.1 L342.9,1437.1 L344.9,1437.0 L346.9,1437.0 L348.9,1437.0 L350.9,1436.9 L352.9,1436.9 L353.4,1436.9M376.4,1436.5 L378.4,1436.5 L380.4,1436.4 L382.4,1436.4 L384.4,1436.4 L386.4,1436.4 L388.4,1436.4 L390.4,1436.3 L392.4,1436.3 L392.9,1436.3M415.9,1436.2 L417.9,1436.2 L419.9,1436.2 L421.9,1436.2 L423.9,1436.2 L425.9,1436.2 L427.9,1436.2 L429.9,1436.2 L431.9,1436.2 L432.6,1436.2M455.4,1436.3 L457.4,1436.4 L459.4,1436.4 L461.4,1436.4 L463.4,1436.4 L465.4,1436.4 L467.4,1436.4 L469.4,1436.5 L471.4,1436.5 L472.1,1436.5M495.1,1436.8 L497.1,1436.8 L499.1,1436.8 L501.1,1436.9 L503.1,1436.9 L505.1,1436.9 L507.1,1437.0 L509.1,1437.0 L511.1,1437.0 L511.6,1437.0M534.6,1437.4 L536.6,1437.4 L538.6,1437.5 L540.6,1437.5 L542.6,1437.5 L544.6,1437.6 L546.6,1437.6 L548.6,1437.6 L550.6,1437.7 L551.1,1437.7M574.1,1438.1 L576.1,1438.1 L578.1,1438.2 L580.1,1438.2 L582.1,1438.2 L584.1,1438.3 L586.1,1438.3 L588.1,1438.4 L590.1,1438.4 L590.6,1438.4M613.6,1438.8 L615.6,1438.8 L617.6,1438.8 L619.6,1438.9 L621.6,1438.9 L623.6,1438.9 L625.6,1438.9 L627.6,1439.0 L629.6,1439.0 L630.1,1439.0M653.1,1439.3 L655.1,1439.3 L657.1,1439.3 L659.1,1439.3 L661.1,1439.3 L663.1,1439.4 L665.1,1439.4 L667.1,1439.4 L669.1,1439.4 L669.6,1439.4M692.6,1439.5 L694.6,1439.5 L696.6,1439.5 L698.6,1439.5 L700.6,1439.5 L702.6,1439.5 L704.6,1439.4 L706.6,1439.4 L708.6,1439.4 L709.1,1439.4M732.1,1439.2 L734.1,1439.2 L736.1,1439.1 L738.1,1439.1 L740.1,1439.1 L742.1,1439.0 L744.1,1439.0 L746.1,1438.9 L748.1,1438.9 L748.6,1438.9M771.6,1438.2 L773.6,1438.1 L775.6,1438.1 L777.6,1438.0 L779.6,1437.9 L781.6,1437.8 L783.6,1437.7 L785.6,1437.6 L787.6,1437.6 L788.1,1437.5M810.8,1436.3 L812.8,1436.1 L814.8,1436.0 L816.8,1435.9 L818.8,1435.7 L820.8,1435.6 L822.8,1435.4 L824.8,1435.3 L826.8,1435.1 L827.3,1435.1M849.9,1433.0 L851.9,1432.7 L853.9,1432.5 L855.9,1432.3 L857.9,1432.1 L859.9,1431.8 L861.8,1431.6 L863.8,1431.3 L865.8,1431.1 L866.1,1431.0M888.5,1427.5 L890.5,1427.1 L892.5,1426.8 L894.4,1426.4 L896.4,1426.0 L898.3,1425.6 L900.3,1425.1 L902.2,1424.7 L904.2,1424.2 L904.4,1424.2M925.8,1417.9 L927.6,1417.2 L929.5,1416.5 L931.4,1415.7 L933.2,1415.0 L935.0,1414.2 L936.9,1413.3 L938.7,1412.5 L940.2,1411.7M958.8,1400.0 L960.4,1398.8 L961.9,1397.5 L963.4,1396.2 L964.9,1394.8 L966.4,1393.5 L967.8,1392.1 L969.3,1390.7 L970.0,1390.0M983.7,1373.2 L984.8,1371.5 L986.0,1369.9 L987.1,1368.2 L988.1,1366.5 L989.2,1364.8 L990.2,1363.1 L991.2,1361.4 L991.5,1360.9M1001.4,1341.8 L1002.2,1340.0 L1003.1,1338.2 L1003.9,1336.4 L1004.7,1334.6 L1005.5,1332.7 L1006.3,1330.9 L1007.0,1329.0 L1007.2,1328.6M1014.9,1308.5 L1015.6,1306.6 L1016.2,1304.7 L1016.9,1302.8 L1017.5,1300.9 L1018.2,1299.0 L1018.8,1297.1 L1019.4,1295.2 L1019.6,1294.8M1025.9,1274.5 L1026.4,1272.5 L1027.0,1270.6 L1027.5,1268.7 L1028.1,1266.8 L1028.6,1264.9 L1029.2,1262.9 L1029.7,1261.0 L1029.8,1260.5M1035.3,1240.0 L1035.7,1238.0 L1036.2,1236.1 L1036.7,1234.2 L1037.2,1232.2 L1037.7,1230.3 L1038.2,1228.3 L1038.6,1226.4 L1038.8,1225.9M1043.6,1205.2 L1044.1,1203.3 L1044.5,1201.3 L1044.9,1199.4 L1045.4,1197.4 L1045.8,1195.5 L1046.2,1193.5 L1046.7,1191.5 L1046.7,1191.3M1051.2,1170.3 L1051.6,1168.3 L1052.0,1166.4 L1052.4,1164.4 L1052.9,1162.4 L1053.3,1160.5 L1053.7,1158.5 L1054.1,1156.6 L1054.1,1156.3M1058.3,1135.2 L1058.7,1133.3 L1059.1,1131.3 L1059.5,1129.4 L1059.9,1127.4 L1060.2,1125.4 L1060.6,1123.5 L1061.0,1121.5 L1061.0,1121.3M1065.0,1100.4 L1065.4,1098.4 L1065.8,1096.4 L1066.1,1094.5 L1066.5,1092.5 L1066.9,1090.5 L1067.2,1088.6 L1067.6,1086.6 L1067.7,1086.1M1071.5,1065.2 L1071.9,1063.3 L1072.3,1061.3 L1072.6,1059.3 L1073.0,1057.4 L1073.3,1055.4 L1073.7,1053.4 L1074.0,1051.4 L1074.1,1051.2M1077.9,1030.0 L1078.3,1028.1 L1078.6,1026.1 L1079.0,1024.1 L1079.4,1022.2 L1079.7,1020.2 L1080.1,1018.2 L1080.4,1016.3 L1080.5,1016.0M1084.3,995.1 L1084.6,993.2 L1085.0,991.2 L1085.4,989.2 L1085.7,987.2 L1086.1,985.3 L1086.5,983.3 L1086.8,981.3 L1086.9,980.9M1090.8,960.0 L1091.2,958.0 L1091.6,956.0 L1091.9,954.1 L1092.3,952.1 L1092.7,950.1 L1093.1,948.2 L1093.5,946.2 L1093.5,946.0M1097.7,924.9 L1098.1,922.9 L1098.5,921.0 L1098.9,919.0 L1099.3,917.1 L1099.7,915.1 L1100.2,913.1 L1100.6,911.2 L1100.6,910.9M1105.3,890.0 L1105.8,888.0 L1106.2,886.1 L1106.7,884.1 L1107.2,882.2 L1107.7,880.2 L1108.2,878.3 L1108.7,876.4 L1108.7,876.1M1114.5,855.7 L1115.2,853.8 L1115.8,851.9 L1116.4,850.0 L1117.1,848.1 L1117.8,846.2 L1118.5,844.4 L1119.3,842.5 L1119.5,842.0M1132.0,825.0 L1134.0,824.9 L1135.9,825.4 L1137.6,826.4 L1139.1,827.7 L1140.4,829.2 L1141.6,830.8 L1142.7,832.5 L1143.2,833.4M1151.5,853.2 L1152.1,855.1 L1152.7,857.0 L1153.3,858.9 L1153.9,860.8 L1154.5,862.7 L1155.0,864.7 L1155.6,866.6 L1155.7,867.1M1161.0,887.6 L1161.5,889.6 L1161.9,891.5 L1162.4,893.5 L1162.8,895.4 L1163.3,897.4 L1163.7,899.3 L1164.2,901.3 L1164.3,901.8M1168.8,922.5 L1169.2,924.5 L1169.6,926.5 L1170.0,928.4 L1170.4,930.4 L1170.8,932.3 L1171.2,934.3 L1171.6,936.2 L1171.6,936.5M1175.8,957.6 L1176.2,959.5 L1176.6,961.5 L1177.0,963.5 L1177.4,965.4 L1177.8,967.4 L1178.1,969.4 L1178.5,971.3 L1178.6,971.6M1182.6,992.4 L1182.9,994.4 L1183.3,996.4 L1183.7,998.3 L1184.1,1000.3 L1184.4,1002.3 L1184.8,1004.2 L1185.2,1006.2 L1185.3,1006.7M1189.2,1027.6 L1189.6,1029.5 L1190.0,1031.5 L1190.4,1033.5 L1190.8,1035.4 L1191.1,1037.4 L1191.5,1039.3 L1191.9,1041.3 L1191.9,1041.6M1196.0,1062.7 L1196.4,1064.6 L1196.8,1066.6 L1197.2,1068.6 L1197.6,1070.5 L1197.9,1072.5 L1198.3,1074.4 L1198.7,1076.4 L1198.8,1076.6M1203.0,1097.7 L1203.4,1099.7 L1203.8,1101.6 L1204.2,1103.6 L1204.6,1105.6 L1205.0,1107.5 L1205.4,1109.5 L1205.9,1111.4 L1205.9,1111.7M1210.4,1132.5 L1210.8,1134.4 L1211.2,1136.4 L1211.6,1138.3 L1212.1,1140.3 L1212.5,1142.2 L1213.0,1144.2 L1213.4,1146.1 L1213.5,1146.6M1218.3,1167.3 L1218.8,1169.3 L1219.2,1171.2 L1219.7,1173.2 L1220.2,1175.1 L1220.7,1177.0 L1221.1,1179.0 L1221.6,1180.9 L1221.8,1181.4M1227.1,1202.0 L1227.6,1203.9 L1228.1,1205.8 L1228.6,1207.8 L1229.2,1209.7 L1229.7,1211.6 L1230.2,1213.6 L1230.8,1215.5 L1230.9,1216.0M1237.0,1236.3 L1237.6,1238.2 L1238.2,1240.1 L1238.8,1242.1 L1239.4,1244.0 L1240.0,1245.9 L1240.6,1247.8 L1241.2,1249.7 L1241.4,1250.1M1248.5,1270.2 L1249.2,1272.0 L1249.9,1273.9 L1250.6,1275.8 L1251.4,1277.6 L1252.1,1279.5 L1252.9,1281.3 L1253.6,1283.2 L1253.8,1283.7M1262.6,1303.3 L1263.4,1305.1 L1264.3,1306.9 L1265.2,1308.7 L1266.1,1310.5 L1267.1,1312.2 L1268.0,1314.0 L1268.9,1315.8 L1269.2,1316.2M1280.3,1334.9 L1281.5,1336.5 L1282.6,1338.2 L1283.7,1339.8 L1284.9,1341.4 L1286.0,1343.1 L1287.2,1344.7 L1288.4,1346.3 L1288.7,1346.7M1302.9,1363.2 L1304.3,1364.6 L1305.7,1366.0 L1307.2,1367.4 L1308.6,1368.8 L1310.1,1370.1 L1311.5,1371.5 L1313.0,1372.8 L1314.0,1373.6M1331.4,1387.0 L1333.1,1388.2 L1334.7,1389.3 L1336.4,1390.3 L1338.1,1391.4 L1339.8,1392.5 L1341.5,1393.5 L1343.2,1394.5 L1344.3,1395.2M1364.1,1405.4 L1365.9,1406.3 L1367.7,1407.1 L1369.5,1407.9 L1371.4,1408.7 L1373.2,1409.5 L1375.0,1410.2 L1376.9,1411.0 L1378.5,1411.6M1399.8,1418.9 L1401.7,1419.4 L1403.7,1420.0 L1405.6,1420.5 L1407.5,1421.0 L1409.5,1421.5 L1411.4,1421.9 L1413.4,1422.4 L1415.3,1422.8M1437.7,1427.0 L1439.7,1427.2 L1441.6,1427.5 L1443.6,1427.8 L1445.6,1428.0 L1447.6,1428.3 L1449.6,1428.5 L1451.6,1428.8 L1453.6,1429.0 L1453.8,1429.0M1476.5,1431.0 L1478.5,1431.1 L1480.5,1431.2 L1482.5,1431.4 L1484.5,1431.5 L1486.5,1431.6 L1488.5,1431.7 L1490.4,1431.8 L1492.4,1431.9 L1492.9,1431.9M1515.9,1432.9 L1517.9,1433.0 L1519.9,1433.0 L1521.9,1433.1 L1523.9,1433.2 L1525.9,1433.2 L1527.9,1433.3 L1529.9,1433.4 L1531.9,1433.4 L1532.4,1433.5M1555.4,1434.1 L1557.4,1434.2 L1559.4,1434.2 L1561.4,1434.3 L1563.4,1434.3 L1565.4,1434.4 L1567.4,1434.4 L1569.4,1434.5 L1571.4,1434.5 L1571.9,1434.5M1594.7,1435.0 L1596.7,1435.1 L1598.7,1435.1 L1600.7,1435.2 L1602.6,1435.2 L1604.6,1435.2 L1606.6,1435.3 L1608.6,1435.3 L1610.6,1435.3 L1611.1,1435.4M1634.1,1435.7 L1636.1,1435.8 L1638.1,1435.8 L1640.1,1435.8 L1642.1,1435.8 L1644.1,1435.9 L1646.1,1435.9 L1648.1,1435.9 L1650.1,1435.9 L1650.9,1436.0M1673.6,1436.2 L1675.6,1436.2 L1677.6,1436.2 L1679.6,1436.3 L1681.6,1436.3 L1683.6,1436.3 L1685.6,1436.3 L1687.6,1436.3 L1689.6,1436.3 L1690.4,1436.3M1713.4,1436.5 L1715.4,1436.5 L1717.4,1436.5 L1719.4,1436.5 L1721.4,1436.5 L1723.4,1436.5 L1725.4,1436.5 L1727.4,1436.5 L1729.4,1436.5 L1729.9,1436.5M1752.9,1436.5 L1754.9,1436.5 L1756.9,1436.5 L1758.9,1436.5 L1760.9,1436.5 L1762.9,1436.5 L1764.9,1436.5 L1766.9,1436.5 L1768.9,1436.5 L1769.4,1436.5"/>
<path class="d" stroke="#0000ff" d="M297.4,1437.5 L299.4,1437.5 L301.4,1437.4 L303.4,1437.4 L305.4,1437.4 L307.4,1437.3 L309.4,1437.3 L311.4,1437.3 L313.4,1437.2 L314.4,1437.2M337.6,1437.0 L339.6,1437.0 L341.6,1437.0 L343.6,1437.0 L345.6,1437.0 L347.6,1437.0 L349.6,1437.0 L351.6,1437.0 L353.6,1437.0 L354.4,1437.0M377.9,1437.0 L379.9,1437.1 L381.9,1437.1 L383.9,1437.1 L385.9,1437.1 L387.9,1437.1 L389.9,1437.1 L391.9,1437.1 L393.9,1437.2 L394.6,1437.2M417.9,1437.4 L419.9,1437.4 L421.9,1437.4 L423.9,1437.4 L425.9,1437.4 L427.9,1437.5 L429.9,1437.5 L431.9,1437.5 L433.9,1437.5 L434.9,1437.5M458.1,1437.7 L460.1,1437.7 L462.1,1437.7 L464.1,1437.7 L466.1,1437.7 L468.1,1437.7 L470.1,1437.7 L472.1,1437.7 L474.1,1437.7 L474.9,1437.7M498.4,1437.7 L500.4,1437.7 L502.4,1437.6 L504.4,1437.6 L506.4,1437.6 L508.4,1437.6 L510.4,1437.6 L512.4,1437.5 L514.4,1437.5 L515.1,1437.5M538.4,1437.0 L540.4,1436.9 L542.4,1436.9 L544.4,1436.8 L546.4,1436.7 L548.4,1436.6 L550.4,1436.6 L552.4,1436.5 L554.4,1436.4 L555.1,1436.4M578.4,1435.1 L580.3,1435.0 L582.3,1434.8 L584.3,1434.7 L586.3,1434.6 L588.3,1434.4 L590.3,1434.2 L592.3,1434.1 L594.3,1433.9 L595.1,1433.8M618.2,1431.3 L620.1,1431.0 L622.1,1430.8 L624.1,1430.5 L626.1,1430.2 L628.1,1429.9 L630.0,1429.5 L632.0,1429.2 L634.0,1428.9 L634.5,1428.8M656.6,1423.6 L658.5,1423.0 L660.4,1422.4 L662.3,1421.8 L664.2,1421.2 L666.1,1420.5 L668.0,1419.8 L669.8,1419.0 L671.7,1418.2M691.3,1407.3 L692.9,1406.1 L694.5,1404.9 L696.0,1403.6 L697.6,1402.4 L699.1,1401.1 L700.6,1399.7 L702.1,1398.4 L703.2,1397.3M717.5,1380.7 L718.6,1379.0 L719.8,1377.4 L720.9,1375.7 L722.0,1374.1 L723.1,1372.4 L724.1,1370.7 L725.2,1369.0 L725.6,1368.3M735.9,1348.9 L736.7,1347.1 L737.6,1345.3 L738.4,1343.5 L739.2,1341.7 L740.0,1339.8 L740.8,1338.0 L741.6,1336.1 L741.8,1335.7M749.7,1315.4 L750.3,1313.5 L751.0,1311.6 L751.7,1309.8 L752.3,1307.9 L753.0,1306.0 L753.6,1304.1 L754.2,1302.2 L754.5,1301.5M761.0,1280.7 L761.5,1278.8 L762.1,1276.9 L762.6,1275.0 L763.2,1273.0 L763.7,1271.1 L764.3,1269.2 L764.8,1267.3 L765.0,1266.8M770.6,1245.8 L771.1,1243.8 L771.6,1241.9 L772.0,1239.9 L772.5,1238.0 L773.0,1236.1 L773.5,1234.1 L774.0,1232.2 L774.2,1231.5M779.1,1210.5 L779.6,1208.6 L780.0,1206.6 L780.5,1204.7 L780.9,1202.7 L781.3,1200.8 L781.8,1198.8 L782.2,1196.9 L782.4,1196.1M786.9,1175.1 L787.3,1173.2 L787.7,1171.2 L788.2,1169.3 L788.6,1167.3 L789.0,1165.3 L789.4,1163.4 L789.8,1161.4 L789.9,1160.7M794.2,1139.4 L794.6,1137.4 L795.0,1135.4 L795.4,1133.5 L795.8,1131.5 L796.2,1129.6 L796.6,1127.6 L797.0,1125.6 L797.0,1125.1M801.2,1103.8 L801.5,1101.8 L801.9,1099.9 L802.3,1097.9 L802.6,1095.9 L803.0,1094.0 L803.4,1092.0 L803.8,1090.0 L803.8,1089.5M807.8,1068.4 L808.1,1066.4 L808.5,1064.5 L808.9,1062.5 L809.2,1060.5 L809.6,1058.6 L810.0,1056.6 L810.3,1054.6 L810.5,1053.9M814.3,1032.7 L814.7,1030.8 L815.1,1028.8 L815.4,1026.8 L815.8,1024.9 L816.1,1022.9 L816.5,1020.9 L816.9,1019.0 L817.0,1018.2M820.9,997.1 L821.3,995.1 L821.6,993.2 L822.0,991.2 L822.4,989.2 L822.7,987.3 L823.1,985.3 L823.5,983.3 L823.6,982.6M827.6,961.5 L828.0,959.5 L828.4,957.5 L828.7,955.6 L829.1,953.6 L829.5,951.7 L829.9,949.7 L830.3,947.7 L830.4,947.0M834.7,925.9 L835.1,924.0 L835.5,922.0 L835.9,920.0 L836.4,918.1 L836.8,916.1 L837.2,914.2 L837.6,912.2 L837.8,911.5M842.6,890.3 L843.1,888.3 L843.6,886.4 L844.1,884.5 L844.6,882.5 L845.1,880.6 L845.6,878.7 L846.1,876.7 L846.2,876.2M852.3,855.4 L853.0,853.5 L853.6,851.6 L854.3,849.7 L855.0,847.8 L855.7,846.0 L856.5,844.1 L857.3,842.3 L857.6,841.6M871.1,825.4 L873.1,825.6 L874.9,826.4 L876.5,827.7 L877.8,829.2 L879.0,830.8 L880.1,832.4 L881.1,834.2 L881.7,835.3M889.4,855.6 L890.0,857.5 L890.6,859.4 L891.1,861.3 L891.7,863.2 L892.2,865.2 L892.7,867.1 L893.2,869.0 L893.4,869.5M898.5,890.6 L899.0,892.6 L899.4,894.5 L899.8,896.5 L900.3,898.5 L900.7,900.4 L901.1,902.4 L901.5,904.3 L901.7,905.0M906.0,926.1 L906.4,928.1 L906.8,930.0 L907.2,932.0 L907.6,934.0 L908.0,935.9 L908.4,937.9 L908.7,939.8 L908.9,940.6M912.9,961.7 L913.3,963.7 L913.6,965.6 L914.0,967.6 L914.4,969.6 L914.7,971.5 L915.1,973.5 L915.5,975.5 L915.6,976.2M919.5,997.3 L919.9,999.3 L920.2,1001.3 L920.6,1003.2 L920.9,1005.2 L921.3,1007.2 L921.7,1009.2 L922.0,1011.1 L922.2,1011.9M926.1,1033.0 L926.4,1035.0 L926.8,1036.9 L927.1,1038.9 L927.5,1040.9 L927.9,1042.8 L928.2,1044.8 L928.6,1046.8 L928.7,1047.3M932.7,1068.6 L933.1,1070.6 L933.5,1072.6 L933.9,1074.5 L934.2,1076.5 L934.6,1078.5 L935.0,1080.4 L935.4,1082.4 L935.5,1082.9M939.6,1104.2 L940.0,1106.2 L940.4,1108.1 L940.8,1110.1 L941.2,1112.1 L941.6,1114.0 L942.0,1116.0 L942.4,1117.9 L942.6,1118.7M947.0,1139.7 L947.4,1141.7 L947.8,1143.6 L948.2,1145.6 L948.7,1147.5 L949.1,1149.5 L949.5,1151.5 L949.9,1153.4 L950.1,1154.1M954.9,1175.1 L955.3,1177.1 L955.8,1179.0 L956.2,1180.9 L956.7,1182.9 L957.2,1184.8 L957.6,1186.8 L958.1,1188.7 L958.3,1189.5M963.6,1210.5 L964.1,1212.5 L964.6,1214.4 L965.1,1216.3 L965.7,1218.3 L966.2,1220.2 L966.7,1222.1 L967.2,1224.1 L967.4,1224.5M973.5,1245.4 L974.0,1247.3 L974.6,1249.2 L975.2,1251.2 L975.8,1253.1 L976.4,1255.0 L977.0,1256.9 L977.7,1258.8 L977.8,1259.3M985.0,1279.8 L985.7,1281.7 L986.4,1283.5 L987.1,1285.4 L987.8,1287.3 L988.6,1289.1 L989.3,1291.0 L990.1,1292.8 L990.4,1293.5M999.2,1313.4 L1000.1,1315.2 L1001.0,1317.0 L1001.9,1318.8 L1002.8,1320.5 L1003.7,1322.3 L1004.7,1324.1 L1005.6,1325.8 L1006.1,1326.7M1017.6,1345.2 L1018.7,1346.8 L1019.9,1348.4 L1021.1,1350.1 L1022.3,1351.7 L1023.5,1353.3 L1024.7,1354.8 L1026.0,1356.4 L1026.6,1357.2M1041.8,1373.3 L1043.3,1374.7 L1044.8,1376.0 L1046.3,1377.3 L1047.9,1378.6 L1049.4,1379.9 L1051.0,1381.1 L1052.5,1382.4 L1053.5,1383.1M1072.3,1395.5 L1074.1,1396.4 L1075.8,1397.4 L1077.6,1398.4 L1079.4,1399.3 L1081.1,1400.2 L1082.9,1401.1 L1084.7,1402.0 L1086.3,1402.7M1107.3,1411.5 L1109.2,1412.2 L1111.1,1412.8 L1112.9,1413.5 L1114.8,1414.1 L1116.7,1414.7 L1118.7,1415.3 L1120.6,1415.9 L1122.5,1416.5 L1122.7,1416.6M1145.0,1422.3 L1146.9,1422.7 L1148.9,1423.1 L1150.9,1423.6 L1152.8,1423.9 L1154.8,1424.3 L1156.7,1424.7 L1158.7,1425.1 L1160.7,1425.4 L1160.9,1425.5M1183.9,1429.1 L1185.9,1429.3 L1187.9,1429.6 L1189.9,1429.8 L1191.8,1430.0 L1193.8,1430.3 L1195.8,1430.5 L1197.8,1430.7 L1199.8,1430.9 L1200.3,1431.0M1223.4,1433.0 L1225.4,1433.1 L1227.4,1433.3 L1229.4,1433.4 L1231.4,1433.5 L1233.4,1433.6 L1235.4,1433.7 L1237.4,1433.9 L1239.4,1434.0 L1240.2,1434.0M1263.4,1435.0 L1265.4,1435.0 L1267.4,1435.1 L1269.4,1435.2 L1271.4,1435.2 L1273.4,1435.3 L1275.4,1435.3 L1277.4,1435.4 L1279.4,1435.4 L1280.1,1435.4M1303.4,1435.8 L1305.4,1435.8 L1307.4,1435.8 L1309.4,1435.8 L1311.4,1435.8 L1313.4,1435.9 L1315.4,1435.9 L1317.4,1435.9 L1319.4,1435.9 L1320.4,1435.9M1343.6,1436.0 L1345.6,1436.0 L1347.6,1436.0 L1349.6,1436.0 L1351.6,1436.1 L1353.6,1436.1 L1355.6,1436.1 L1357.6,1436.1 L1359.6,1436.1 L1360.4,1436.1M1383.9,1436.2 L1385.9,1436.2 L1387.9,1436.2 L1389.9,1436.2 L1391.9,1436.2 L1393.9,1436.2 L1395.9,1436.2 L1397.9,1436.2 L1399.9,1436.2 L1400.6,1436.2M1424.1,1436.3 L1426.1,1436.3 L1428.1,1436.3 L1430.1,1436.3 L1432.1,1436.3 L1434.1,1436.4 L1436.1,1436.4 L1438.1,1436.4 L1440.1,1436.4 L1440.9,1436.4M1464.1,1436.5 L1466.1,1436.5 L1468.1,1436.5 L1470.1,1436.5 L1472.1,1436.5 L1474.1,1436.5 L1476.1,1436.6 L1478.1,1436.6 L1480.1,1436.6 L1481.1,1436.6M1504.4,1436.7 L1506.4,1436.7 L1508.4,1436.7 L1510.4,1436.7 L1512.4,1436.7 L1514.4,1436.7 L1516.4,1436.8 L1518.4,1436.8 L1520.4,1436.8 L1521.1,1436.8M1544.6,1436.9 L1546.6,1436.9 L1548.6,1436.9 L1550.6,1436.9 L1552.6,1436.9 L1554.6,1437.0 L1556.6,1437.0 L1558.6,1437.0 L1560.6,1437.0 L1561.4,1437.0M1584.6,1437.1 L1586.6,1437.1 L1588.6,1437.1 L1590.6,1437.1 L1592.6,1437.1 L1594.6,1437.2 L1596.6,1437.2 L1598.6,1437.2 L1600.6,1437.2 L1601.6,1437.2M1624.9,1437.3 L1626.9,1437.3 L1628.9,1437.3 L1630.9,1437.3 L1632.9,1437.3 L1634.9,1437.3 L1636.9,1437.3 L1638.9,1437.3 L1640.9,1437.3 L1641.6,1437.3M1665.1,1437.3 L1667.1,1437.3 L1669.1,1437.3 L1671.1,1437.3 L1673.1,1437.3 L1675.1,1437.3 L1677.1,1437.3 L1679.1,1437.3 L1681.1,1437.3 L1681.9,1437.3M1705.4,1437.3 L1707.4,1437.3 L1709.4,1437.3 L1711.4,1437.3 L1713.4,1437.3 L1715.4,1437.3 L1717.4,1437.3 L1719.4,1437.3 L1721.4,1437.2 L1722.2,1437.2M1745.4,1437.1 L1747.4,1437.1 L1749.4,1437.1 L1751.4,1437.1 L1753.4,1437.0 L1755.4,1437.0 L1757.4,1437.0 L1759.4,1437.0 L1761.4,1437.0 L1762.4,1437.0"/>
<path class="d" stroke="#ff0000" d="M297.4,1438.6 L299.4,1438.6 L301.4,1438.6 L303.4,1438.6 L305.4,1438.6 L307.4,1438.5 L309.4,1438.5 L311.4,1438.5 L313.4,1438.5 L314.4,1438.5M337.9,1438.4 L339.9,1438.4 L341.9,1438.4 L343.9,1438.3 L345.9,1438.3 L347.9,1438.3 L349.9,1438.3 L351.9,1438.3 L353.9,1438.3 L354.7,1438.3M378.2,1438.3 L380.2,1438.3 L382.2,1438.3 L384.2,1438.3 L386.2,1438.2 L388.2,1438.2 L390.2,1438.2 L392.2,1438.2 L394.2,1438.2 L395.2,1438.2M418.7,1438.3 L420.7,1438.3 L422.7,1438.3 L424.7,1438.3 L426.7,1438.3 L428.7,1438.3 L430.7,1438.3 L432.7,1438.3 L434.7,1438.3 L435.4,1438.3M458.9,1438.3 L460.9,1438.3 L462.9,1438.4 L464.9,1438.4 L466.9,1438.4 L468.9,1438.4 L470.9,1438.4 L472.9,1438.4 L474.9,1438.4 L475.7,1438.4M499.2,1438.5 L501.2,1438.5 L503.2,1438.5 L505.2,1438.5 L507.2,1438.5 L509.2,1438.5 L511.2,1438.6 L513.2,1438.6 L515.2,1438.6 L516.2,1438.6M539.7,1438.7 L541.7,1438.7 L543.7,1438.7 L545.7,1438.7 L547.7,1438.8 L549.7,1438.8 L551.7,1438.8 L553.7,1438.8 L555.7,1438.8 L556.4,1438.8M579.9,1438.9 L581.9,1439.0 L583.9,1439.0 L585.9,1439.0 L587.9,1439.0 L589.9,1439.0 L591.9,1439.0 L593.9,1439.0 L595.9,1439.0 L596.7,1439.1M620.2,1439.2 L622.2,1439.2 L624.2,1439.2 L626.2,1439.2 L628.2,1439.2 L630.2,1439.3 L632.2,1439.3 L634.2,1439.3 L636.2,1439.3 L637.2,1439.3M660.4,1439.4 L662.4,1439.4 L664.4,1439.4 L666.4,1439.5 L668.4,1439.5 L670.4,1439.5 L672.4,1439.5 L674.4,1439.5 L676.4,1439.5 L677.4,1439.5M700.9,1439.6 L702.9,1439.6 L704.9,1439.6 L706.9,1439.6 L708.9,1439.6 L710.9,1439.7 L712.9,1439.7 L714.9,1439.7 L716.9,1439.7 L717.7,1439.7M741.2,1439.7 L743.2,1439.7 L745.2,1439.7 L747.2,1439.7 L749.2,1439.7 L751.2,1439.7 L753.2,1439.7 L755.2,1439.7 L757.2,1439.7 L758.2,1439.7M781.4,1439.7 L783.4,1439.7 L785.4,1439.7 L787.4,1439.7 L789.4,1439.7 L791.4,1439.7 L793.4,1439.7 L795.4,1439.7 L797.4,1439.7 L798.4,1439.7M821.9,1439.6 L823.9,1439.6 L825.9,1439.6 L827.9,1439.5 L829.9,1439.5 L831.9,1439.5 L833.9,1439.5 L835.9,1439.5 L837.9,1439.5 L838.7,1439.5M862.2,1439.2 L864.2,1439.2 L866.2,1439.2 L868.2,1439.1 L870.2,1439.1 L872.2,1439.1 L874.2,1439.1 L876.2,1439.0 L878.2,1439.0 L879.2,1439.0M902.4,1438.6 L904.4,1438.5 L906.4,1438.5 L908.4,1438.4 L910.4,1438.4 L912.4,1438.4 L914.4,1438.3 L916.4,1438.3 L918.4,1438.2 L919.4,1438.2M942.7,1437.5 L944.7,1437.5 L946.7,1437.4 L948.7,1437.3 L950.7,1437.3 L952.7,1437.2 L954.7,1437.1 L956.7,1437.1 L958.7,1437.0 L959.4,1437.0M982.9,1436.0 L984.9,1435.9 L986.9,1435.8 L988.9,1435.7 L990.9,1435.6 L992.9,1435.4 L994.9,1435.3 L996.9,1435.2 L998.9,1435.1 L999.6,1435.1M1022.8,1433.4 L1024.8,1433.3 L1026.8,1433.1 L1028.8,1432.9 L1030.8,1432.7 L1032.8,1432.5 L1034.8,1432.3 L1036.7,1432.1 L1038.7,1431.9 L1039.5,1431.8M1062.5,1428.6 L1064.5,1428.3 L1066.4,1427.9 L1068.4,1427.5 L1070.4,1427.1 L1072.3,1426.7 L1074.3,1426.3 L1076.2,1425.8 L1078.2,1425.3 L1078.4,1425.3M1100.2,1417.9 L1102.0,1417.1 L1103.8,1416.3 L1105.6,1415.4 L1107.4,1414.5 L1109.2,1413.5 L1110.9,1412.6 L1112.6,1411.6 L1114.1,1410.7M1131.8,1397.2 L1133.2,1395.8 L1134.7,1394.4 L1136.1,1393.0 L1137.5,1391.5 L1138.8,1390.1 L1140.2,1388.6 L1141.5,1387.1 L1142.3,1386.1M1155.3,1368.4 L1156.4,1366.7 L1157.5,1365.0 L1158.5,1363.3 L1159.5,1361.6 L1160.5,1359.9 L1161.5,1358.2 L1162.5,1356.4 L1163.0,1355.5M1172.8,1336.1 L1173.7,1334.3 L1174.5,1332.5 L1175.3,1330.7 L1176.1,1328.9 L1176.9,1327.0 L1177.7,1325.2 L1178.5,1323.3 L1178.9,1322.4M1186.8,1302.2 L1187.5,1300.3 L1188.2,1298.4 L1188.9,1296.5 L1189.6,1294.7 L1190.2,1292.8 L1190.9,1290.9 L1191.5,1289.0 L1191.8,1288.3M1198.6,1267.6 L1199.2,1265.7 L1199.8,1263.8 L1200.3,1261.9 L1200.9,1260.0 L1201.5,1258.1 L1202.1,1256.1 L1202.7,1254.2 L1202.9,1253.5M1208.9,1232.6 L1209.4,1230.7 L1210.0,1228.8 L1210.5,1226.8 L1211.0,1224.9 L1211.5,1223.0 L1212.1,1221.0 L1212.6,1219.1 L1212.8,1218.4M1218.2,1197.3 L1218.7,1195.4 L1219.2,1193.4 L1219.7,1191.5 L1220.2,1189.6 L1220.7,1187.6 L1221.2,1185.7 L1221.6,1183.7 L1221.8,1183.3M1226.9,1161.9 L1227.4,1159.9 L1227.8,1158.0 L1228.3,1156.0 L1228.8,1154.1 L1229.2,1152.1 L1229.7,1150.2 L1230.1,1148.2 L1230.2,1147.8M1235.1,1126.6 L1235.5,1124.6 L1236.0,1122.6 L1236.4,1120.7 L1236.9,1118.7 L1237.3,1116.8 L1237.7,1114.8 L1238.2,1112.9 L1238.3,1112.2M1243.0,1090.9 L1243.5,1089.0 L1243.9,1087.0 L1244.3,1085.1 L1244.7,1083.1 L1245.2,1081.1 L1245.6,1079.2 L1246.0,1077.2 L1246.1,1076.8M1250.7,1055.5 L1251.2,1053.5 L1251.6,1051.6 L1252.0,1049.6 L1252.4,1047.7 L1252.9,1045.7 L1253.3,1043.8 L1253.7,1041.8 L1253.9,1041.1M1258.5,1019.8 L1258.9,1017.9 L1259.3,1015.9 L1259.8,1014.0 L1260.2,1012.0 L1260.6,1010.1 L1261.0,1008.1 L1261.5,1006.1 L1261.6,1005.4M1266.3,984.2 L1266.8,982.2 L1267.2,980.3 L1267.6,978.3 L1268.1,976.4 L1268.5,974.4 L1269.0,972.5 L1269.4,970.5 L1269.5,970.0M1274.4,948.8 L1274.9,946.9 L1275.4,945.0 L1275.8,943.0 L1276.3,941.1 L1276.8,939.1 L1277.2,937.2 L1277.7,935.2 L1277.9,934.5M1283.2,913.4 L1283.7,911.5 L1284.3,909.6 L1284.8,907.6 L1285.3,905.7 L1285.8,903.8 L1286.3,901.8 L1286.9,899.9 L1287.1,899.2M1293.2,878.3 L1293.8,876.4 L1294.5,874.5 L1295.1,872.6 L1295.7,870.7 L1296.4,868.8 L1297.0,866.9 L1297.7,865.0 L1297.9,864.3M1306.2,844.2 L1307.0,842.4 L1308.0,840.6 L1308.9,838.9 L1309.9,837.1 L1310.9,835.4 L1312.0,833.8 L1313.2,832.1 L1313.8,831.3M1333.1,826.2 L1334.6,827.5 L1336.0,828.9 L1337.4,830.4 L1338.7,831.9 L1339.8,833.5 L1341.0,835.2 L1342.1,836.8 L1342.7,837.9M1352.2,857.5 L1353.0,859.3 L1353.7,861.2 L1354.4,863.0 L1355.1,864.9 L1355.8,866.8 L1356.5,868.7 L1357.2,870.5 L1357.5,871.2M1364.3,891.9 L1364.9,893.8 L1365.5,895.7 L1366.1,897.6 L1366.6,899.5 L1367.2,901.5 L1367.8,903.4 L1368.4,905.3 L1368.6,906.0M1374.5,926.9 L1375.0,928.9 L1375.5,930.8 L1376.1,932.7 L1376.6,934.7 L1377.1,936.6 L1377.6,938.5 L1378.1,940.5 L1378.3,941.2M1383.8,962.2 L1384.3,964.2 L1384.8,966.1 L1385.3,968.0 L1385.8,970.0 L1386.3,971.9 L1386.8,973.8 L1387.3,975.8 L1387.5,976.5M1392.9,997.6 L1393.3,999.5 L1393.8,1001.5 L1394.3,1003.4 L1394.8,1005.4 L1395.3,1007.3 L1395.8,1009.2 L1396.3,1011.2 L1396.5,1011.9M1401.8,1033.0 L1402.3,1034.9 L1402.8,1036.9 L1403.3,1038.8 L1403.8,1040.7 L1404.3,1042.7 L1404.8,1044.6 L1405.3,1046.6 L1405.4,1047.0M1410.8,1068.1 L1411.3,1070.0 L1411.8,1072.0 L1412.3,1073.9 L1412.8,1075.8 L1413.4,1077.8 L1413.9,1079.7 L1414.4,1081.6 L1414.6,1082.4M1420.2,1103.4 L1420.8,1105.3 L1421.3,1107.2 L1421.8,1109.2 L1422.4,1111.1 L1422.9,1113.0 L1423.4,1114.9 L1424.0,1116.9 L1424.2,1117.6M1430.2,1138.5 L1430.7,1140.4 L1431.3,1142.3 L1431.9,1144.2 L1432.4,1146.2 L1433.0,1148.1 L1433.6,1150.0 L1434.2,1151.9 L1434.4,1152.6M1440.9,1173.4 L1441.5,1175.3 L1442.1,1177.2 L1442.7,1179.1 L1443.3,1181.0 L1444.0,1182.9 L1444.6,1184.8 L1445.2,1186.7 L1445.5,1187.4M1452.6,1207.9 L1453.3,1209.8 L1454.0,1211.7 L1454.7,1213.6 L1455.4,1215.5 L1456.1,1217.3 L1456.8,1219.2 L1457.5,1221.1 L1457.7,1221.8M1465.9,1242.2 L1466.6,1244.1 L1467.4,1245.9 L1468.2,1247.7 L1469.0,1249.6 L1469.8,1251.4 L1470.6,1253.2 L1471.4,1255.1 L1471.7,1255.8M1481.0,1275.4 L1481.9,1277.2 L1482.8,1279.0 L1483.7,1280.8 L1484.6,1282.6 L1485.5,1284.3 L1486.5,1286.1 L1487.4,1287.9 L1487.9,1288.7M1499.0,1307.8 L1500.0,1309.5 L1501.1,1311.1 L1502.2,1312.8 L1503.3,1314.5 L1504.4,1316.2 L1505.5,1317.8 L1506.6,1319.5 L1507.1,1320.1M1520.6,1337.8 L1521.8,1339.3 L1523.1,1340.8 L1524.5,1342.3 L1525.8,1343.8 L1527.1,1345.3 L1528.5,1346.8 L1529.9,1348.2 L1530.7,1349.1M1547.0,1364.3 L1548.6,1365.5 L1550.1,1366.8 L1551.7,1368.0 L1553.3,1369.3 L1554.9,1370.5 L1556.5,1371.7 L1558.1,1372.8 L1559.3,1373.7M1578.4,1385.7 L1580.1,1386.6 L1581.9,1387.6 L1583.6,1388.5 L1585.4,1389.4 L1587.2,1390.3 L1589.0,1391.2 L1590.8,1392.1 L1592.6,1393.0M1613.5,1402.0 L1615.3,1402.7 L1617.2,1403.4 L1619.1,1404.1 L1621.0,1404.8 L1622.9,1405.5 L1624.7,1406.1 L1626.6,1406.8 L1628.5,1407.4M1650.5,1414.2 L1652.4,1414.8 L1654.3,1415.3 L1656.3,1415.8 L1658.2,1416.4 L1660.1,1416.9 L1662.1,1417.4 L1664.0,1417.8 L1666.0,1418.3 L1666.2,1418.4M1688.9,1423.4 L1690.9,1423.8 L1692.8,1424.1 L1694.8,1424.5 L1696.8,1424.8 L1698.7,1425.2 L1700.7,1425.5 L1702.7,1425.9 L1704.7,1426.2 L1705.2,1426.2M1728.2,1429.2 L1730.2,1429.4 L1732.2,1429.6 L1734.2,1429.8 L1736.2,1430.0 L1738.2,1430.1 L1740.2,1430.3 L1742.2,1430.4 L1744.2,1430.5 L1744.9,1430.5M1768.2,1431.1 L1770.2,1431.1 L1772.2,1431.0 L1774.2,1431.0 L1776.2,1430.9 L1778.2,1430.8 L1779.4,1430.8"/>
</g>
<rect x="1184.5" y="233.6" width="573.1" height="479.6" fill="#fff" stroke="#000" stroke-width="3.2"/>
<path d="M1249.6,713V722.3M1389.6,713V722.3M1572.5,713V722.3" stroke="#000" stroke-width="3" stroke-linecap="round" fill="none"/>
<g clip-path="url(#ci)">
<path class="i" stroke="#0000ff" d="M1179.4,713.0 L1181.4,713.0 L1183.4,713.0 L1185.4,713.0 L1187.4,713.0 L1189.4,713.0 L1191.4,713.0 L1193.4,713.0 L1195.4,713.0 L1197.4,713.0 L1199.4,713.0 L1201.4,713.0 L1203.4,713.0 L1205.4,713.0 L1207.4,713.0 L1209.4,713.0 L1211.5,713.0 L1213.5,713.0 L1215.5,713.0 L1217.5,713.0 L1219.4,712.8 L1221.4,712.4 L1223.4,711.9 L1225.3,711.3 L1227.2,710.7 L1229.1,710.0 L1230.9,709.2 L1232.7,708.3 L1234.5,707.3 L1236.2,706.2 L1237.8,705.1 L1239.4,703.9 L1241.0,702.6 L1242.5,701.3 L1243.9,699.9 L1245.3,698.4 L1246.6,696.9 L1247.9,695.3 L1249.1,693.8 L1250.3,692.1 L1251.4,690.5 L1252.5,688.8 L1253.6,687.1 L1254.6,685.4 L1255.7,683.6 L1256.6,681.9 L1257.6,680.1 L1258.5,678.3 L1259.4,676.5 L1260.2,674.7 L1261.1,672.9 L1261.9,671.0 L1262.7,669.2 L1263.4,667.3 L1264.2,665.5 L1264.9,663.6 L1265.6,661.7 L1266.3,659.8 L1266.9,657.9 L1267.6,656.0 L1268.2,654.1 L1268.8,652.2 L1269.4,650.3 L1270.0,648.4 L1270.6,646.4 L1271.1,644.5 L1271.7,642.6 L1272.2,640.6 L1272.7,638.7 L1273.2,636.7 L1273.7,634.8 L1274.2,632.9 L1274.7,630.9 L1275.2,629.0 L1275.7,627.0 L1276.1,625.0 L1276.6,623.1 L1277.0,621.1 L1277.5,619.2 L1277.9,617.2 L1278.4,615.3 L1278.8,613.3 L1279.2,611.3 L1279.7,609.4 L1280.1,607.4 L1280.5,605.5 L1281.0,603.5 L1281.4,601.5 L1281.8,599.6 L1282.3,597.6 L1282.7,595.6 L1283.1,593.7 L1283.6,591.7 L1284.0,589.8 L1284.5,587.8 L1284.9,585.9 L1285.4,583.9 L1285.9,581.9 L1286.3,580.0 L1286.8,578.0 L1287.3,576.1 L1287.8,574.1 L1288.3,572.2 L1288.8,570.3 L1289.3,568.3 L1289.8,566.4 L1290.4,564.4 L1290.9,562.5 L1291.5,560.6 L1292.1,558.7 L1292.7,556.7 L1293.3,554.8 L1293.9,552.9 L1294.5,551.0 L1295.2,549.1 L1295.9,547.2 L1296.6,545.3 L1297.3,543.5 L1298.0,541.6 L1298.8,539.7 L1299.6,537.9 L1300.4,536.0 L1301.2,534.2 L1302.0,532.4 L1302.9,530.6 L1303.8,528.8 L1304.7,527.0 L1305.7,525.2 L1306.7,523.5 L1307.7,521.7 L1308.7,520.0 L1309.8,518.3 L1310.9,516.6 L1312.0,515.0 L1313.1,513.3 L1314.3,511.7 L1315.5,510.1 L1316.7,508.5 L1318.0,506.9 L1319.3,505.4 L1320.6,503.8 L1321.9,502.3 L1323.3,500.9 L1324.7,499.4 L1326.1,498.0 L1327.6,496.6 L1329.0,495.3 L1330.5,493.9 L1332.1,492.6 L1333.6,491.4 L1335.2,490.1 L1336.8,488.9 L1338.4,487.7 L1340.1,486.6 L1341.8,485.5 L1343.5,484.4 L1345.2,483.4 L1346.9,482.4 L1348.7,481.4 L1350.4,480.4 L1352.2,479.5 L1354.0,478.6 L1355.8,477.8 L1357.7,476.9 L1359.5,476.1 L1361.4,475.4 L1363.2,474.6 L1365.1,473.9 L1367.0,473.2 L1368.9,472.5 L1370.7,471.8 L1372.6,471.1 L1374.5,470.5 L1376.4,469.8 L1378.3,469.2 L1380.3,468.6 L1382.2,467.9 L1384.1,467.3 L1386.0,466.7 L1387.9,466.1 L1389.8,465.5 L1391.7,464.9 L1393.7,464.3 L1395.6,463.7 L1397.5,463.1 L1399.4,462.5 L1401.3,461.9 L1403.2,461.2 L1405.1,460.6 L1407.0,460.0 L1408.9,459.3 L1410.8,458.6 L1412.7,458.0 L1414.6,457.3 L1416.5,456.6 L1418.4,455.8 L1420.2,455.1 L1422.1,454.3 L1423.9,453.5 L1425.8,452.7 L1427.6,451.9 L1429.4,451.0 L1431.2,450.1 L1433.0,449.2 L1434.8,448.3 L1436.6,447.4 L1438.3,446.4 L1440.1,445.5 L1441.9,444.5 L1443.6,443.5 L1445.3,442.5 L1447.1,441.5 L1448.8,440.4 L1450.5,439.3 L1452.2,438.3 L1453.9,437.2 L1455.6,436.1 L1457.2,435.0 L1458.9,433.9 L1460.6,432.8 L1462.2,431.6 L1463.9,430.5 L1465.5,429.3 L1467.2,428.2 L1468.8,427.0 L1470.4,425.8 L1472.1,424.7 L1473.7,423.5 L1475.3,422.3 L1476.9,421.1 L1478.5,419.9 L1480.1,418.7 L1481.7,417.4 L1483.3,416.2 L1484.9,415.0 L1486.5,413.7 L1488.0,412.5 L1489.6,411.2 L1491.2,410.0 L1492.7,408.7 L1494.3,407.4 L1495.8,406.1 L1497.3,404.8 L1498.9,403.5 L1500.4,402.2 L1501.9,400.9 L1503.4,399.6 L1504.9,398.3 L1506.4,396.9 L1507.9,395.6 L1509.4,394.3 L1510.9,392.9 L1512.4,391.6 L1513.9,390.2 L1515.4,388.8 L1516.8,387.4 L1518.3,386.1 L1519.7,384.7 L1521.2,383.3 L1522.6,381.9 L1524.1,380.5 L1525.5,379.1 L1526.9,377.7 L1528.3,376.3 L1529.8,374.8 L1531.2,373.4 L1532.6,372.0 L1534.0,370.5 L1535.4,369.1 L1536.8,367.6 L1538.1,366.2 L1539.5,364.7 L1540.9,363.2 L1542.3,361.8 L1543.6,360.3 L1545.0,358.8 L1546.3,357.3 L1547.7,355.8 L1549.0,354.3 L1550.4,352.8 L1551.7,351.3 L1553.0,349.8 L1554.3,348.3 L1555.7,346.8 L1557.0,345.3 L1558.3,343.8 L1559.6,342.2 L1560.9,340.7 L1562.2,339.1 L1563.5,337.6 L1564.7,336.1 L1566.0,334.5 L1567.3,333.0 L1568.5,331.4 L1569.8,329.8 L1571.1,328.3 L1572.3,326.7 L1573.6,325.1 L1574.8,323.5 L1576.1,322.0 L1577.3,320.4 L1578.5,318.8 L1579.7,317.2 L1581.0,315.6 L1582.2,314.0 L1583.4,312.4 L1584.6,310.8 L1585.8,309.2 L1587.0,307.6 L1588.2,306.0 L1589.4,304.4 L1590.6,302.7 L1591.8,301.1 L1592.9,299.5 L1594.1,297.9 L1595.3,296.2 L1596.5,294.6 L1597.6,293.0 L1598.8,291.3 L1599.9,289.7 L1601.1,288.0 L1602.2,286.4 L1603.4,284.7 L1604.5,283.1 L1605.7,281.4 L1606.8,279.8 L1607.9,278.1 L1609.0,276.4 L1610.2,274.8 L1611.3,273.1 L1612.4,271.4 L1613.5,269.8 L1614.6,268.1 L1615.7,266.4 L1616.8,264.7 L1617.9,263.0 L1619.0,261.4 L1620.1,259.7 L1621.2,258.0 L1622.3,256.3 L1623.4,254.6 L1624.4,252.9 L1625.5,251.2 L1626.6,249.5 L1627.7,247.8 L1628.7,246.1 L1629.8,244.4 L1630.9,242.7 L1631.9,241.0 L1633.0,239.3 L1634.0,237.6 L1635.1,235.9 L1636.1,234.2 L1637.2,232.4 L1638.2,230.7"/>
<path class="i" stroke="#008000" d="M1329.0,713.0 L1331.0,713.0 L1333.0,713.0 L1335.0,713.0 L1337.0,713.0 L1339.0,713.0 L1341.0,713.0 L1343.0,713.0 L1345.0,713.0 L1347.0,713.0 L1349.0,713.0 L1351.0,713.0 L1353.0,713.0 L1355.0,713.0 L1357.0,713.0 L1359.0,713.0 L1361.0,713.0 L1363.0,712.2 L1364.9,711.8 L1366.8,711.2 L1368.7,710.6 L1370.6,709.9 L1372.5,709.2 L1374.3,708.3 L1376.1,707.4 L1377.8,706.4 L1379.5,705.3 L1381.2,704.2 L1382.8,703.0 L1384.3,701.7 L1385.8,700.3 L1387.2,698.9 L1388.6,697.4 L1389.9,695.9 L1391.1,694.3 L1392.3,692.7 L1393.4,691.0 L1394.5,689.4 L1395.5,687.6 L1396.5,685.9 L1397.5,684.1 L1398.3,682.3 L1399.2,680.5 L1400.0,678.6 L1400.7,676.8 L1401.5,674.9 L1402.2,673.0 L1402.8,671.1 L1403.5,669.2 L1404.1,667.3 L1404.7,665.4 L1405.2,663.5 L1405.8,661.5 L1406.3,659.6 L1406.8,657.7 L1407.3,655.7 L1407.7,653.8 L1408.2,651.8 L1408.7,649.8 L1409.1,647.9 L1409.5,645.9 L1409.9,644.0 L1410.4,642.0 L1410.8,640.0 L1411.2,638.1 L1411.6,636.1 L1412.0,634.1 L1412.4,632.2 L1412.8,630.2 L1413.2,628.2 L1413.6,626.3 L1414.0,624.3 L1414.5,622.3 L1414.9,620.4 L1415.3,618.4 L1415.7,616.5 L1416.2,614.5 L1416.6,612.5 L1417.1,610.6 L1417.5,608.6 L1417.9,606.7 L1418.4,604.7 L1418.9,602.8 L1419.3,600.8 L1419.8,598.9 L1420.2,596.9 L1420.7,595.0 L1421.2,593.0 L1421.7,591.1 L1422.1,589.1 L1422.6,587.2 L1423.1,585.2 L1423.6,583.3 L1424.1,581.3 L1424.6,579.4 L1425.1,577.4 L1425.6,575.5 L1426.1,573.5 L1426.6,571.6 L1427.1,569.6 L1427.6,567.7 L1428.1,565.8 L1428.6,563.8 L1429.1,561.9 L1429.6,559.9 L1430.1,558.0 L1430.6,556.1 L1431.2,554.1 L1431.7,552.2 L1432.2,550.2 L1432.7,548.3 L1433.3,546.4 L1433.8,544.4 L1434.3,542.5 L1434.8,540.6 L1435.4,538.6 L1435.9,536.7 L1436.4,534.8 L1437.0,532.8 L1437.5,530.9 L1438.0,528.9 L1438.6,527.0 L1439.1,525.1 L1439.6,523.1 L1440.2,521.2 L1440.7,519.3 L1441.3,517.3 L1441.8,515.4 L1442.4,513.5 L1442.9,511.6 L1443.5,509.6 L1444.1,507.7 L1444.7,505.8 L1445.3,503.9 L1445.9,502.0 L1446.6,500.1 L1447.2,498.2 L1447.9,496.3 L1448.7,494.4 L1449.4,492.6 L1450.2,490.7 L1451.0,488.9 L1451.9,487.1 L1452.8,485.3 L1453.7,483.5 L1454.7,481.8 L1455.8,480.1 L1456.9,478.4 L1458.0,476.7 L1459.2,475.1 L1460.5,473.5 L1461.8,472.0 L1463.1,470.6 L1464.6,469.2 L1466.1,467.8 L1467.6,466.5 L1469.2,465.3 L1470.8,464.2 L1472.5,463.1 L1474.3,462.1 L1476.0,461.1 L1477.8,460.2 L1479.6,459.4 L1481.5,458.6 L1483.4,457.8 L1485.3,457.2 L1487.2,456.6 L1489.1,456.0 L1491.0,455.5 L1493.0,455.0 L1494.9,454.5 L1496.9,454.1 L1498.9,453.7 L1500.8,453.4 L1502.8,453.0 L1504.8,452.6 L1506.7,452.2 L1508.7,451.8 L1510.7,451.4 L1512.6,450.9 L1514.6,450.4 L1516.5,449.9 L1518.4,449.3 L1520.3,448.7 L1522.2,448.0 L1524.1,447.3 L1526.0,446.6 L1527.8,445.9 L1529.7,445.1 L1531.5,444.3 L1533.3,443.4 L1535.1,442.5 L1536.9,441.6 L1538.7,440.7 L1540.5,439.7 L1542.2,438.7 L1544.0,437.7 L1545.7,436.7 L1547.4,435.7 L1549.1,434.6 L1550.8,433.6 L1552.5,432.5 L1554.2,431.4 L1555.9,430.3 L1557.6,429.2 L1559.2,428.1 L1560.9,427.0 L1562.6,425.9 L1564.3,424.8 L1566.0,423.7 L1567.6,422.6 L1569.3,421.5 L1571.0,420.4 L1572.7,419.3 L1574.3,418.2 L1576.0,417.0 L1577.7,415.9 L1579.3,414.8 L1581.0,413.7 L1582.7,412.6 L1584.3,411.5 L1586.0,410.3 L1587.7,409.2 L1589.3,408.1 L1591.0,407.0 L1592.6,405.8 L1594.3,404.7 L1595.9,403.5 L1597.6,402.4 L1599.2,401.3 L1600.9,400.1 L1602.5,399.0 L1604.2,397.8 L1605.8,396.6 L1607.4,395.5 L1609.1,394.3 L1610.7,393.1 L1612.3,391.9 L1613.9,390.7 L1615.5,389.5 L1617.2,388.3 L1618.8,387.1 L1620.4,385.9 L1622.0,384.7 L1623.5,383.5 L1625.1,382.3 L1626.7,381.0 L1628.3,379.8 L1629.9,378.5 L1631.4,377.3 L1633.0,376.0 L1634.6,374.8 L1636.1,373.5 L1637.6,372.2 L1639.2,370.9 L1640.7,369.6 L1642.2,368.3 L1643.8,367.0 L1645.3,365.7 L1646.8,364.3 L1648.3,363.0 L1649.8,361.7 L1651.2,360.3 L1652.7,358.9 L1654.2,357.6 L1655.6,356.2 L1657.1,354.8 L1658.5,353.4 L1660.0,352.0 L1661.4,350.6 L1662.8,349.2 L1664.2,347.7 L1665.6,346.3 L1667.0,344.8 L1668.4,343.4 L1669.7,341.9 L1671.1,340.4 L1672.4,338.9 L1673.8,337.5 L1675.1,336.0 L1676.5,334.5 L1677.8,332.9 L1679.1,331.4 L1680.4,329.9 L1681.7,328.4 L1683.0,326.9 L1684.3,325.3 L1685.6,323.8 L1686.9,322.2 L1688.1,320.7 L1689.4,319.1 L1690.7,317.6 L1691.9,316.0 L1693.2,314.4 L1694.4,312.9 L1695.7,311.3 L1696.9,309.7 L1698.2,308.1 L1699.4,306.5 L1700.6,305.0 L1701.8,303.4 L1703.1,301.8 L1704.3,300.2 L1705.5,298.6 L1706.7,297.0 L1707.9,295.4 L1709.2,293.8 L1710.4,292.2 L1711.6,290.6 L1712.8,289.0 L1714.0,287.4 L1715.2,285.8 L1716.4,284.2 L1717.6,282.6 L1718.8,281.0 L1720.0,279.4 L1721.2,277.7 L1722.4,276.1 L1723.6,274.5 L1724.8,272.9 L1726.0,271.3 L1727.2,269.7 L1728.4,268.1 L1729.6,266.5 L1730.9,264.9 L1732.1,263.3 L1733.3,261.7 L1734.5,260.1 L1735.7,258.5 L1737.0,256.9 L1738.2,255.4 L1739.4,253.8 L1740.7,252.2 L1741.9,250.6 L1743.1,249.0 L1744.4,247.5 L1745.6,245.9 L1746.9,244.3 L1748.2,242.8 L1749.4,241.2 L1750.7,239.7 L1752.0,238.1 L1753.3,236.6 L1754.5,235.0 L1755.8,233.5 L1757.1,232.0 L1758.4,230.4"/>
<path class="i" stroke="#ff0000" d="M1216.9,713.0 L1218.9,713.0 L1220.9,713.0 L1222.9,713.0 L1224.9,713.0 L1227.0,713.0 L1229.0,713.0 L1231.0,713.0 L1233.0,713.0 L1235.0,713.0 L1237.0,713.0 L1239.0,713.0 L1241.0,713.0 L1243.0,713.0 L1245.0,713.0 L1247.1,713.0 L1249.1,713.0 L1251.1,713.0 L1253.1,713.0 L1255.1,713.0 L1257.1,713.0 L1259.1,713.0 L1261.1,713.0 L1263.1,713.0 L1265.1,713.0 L1267.1,713.0 L1269.2,713.0 L1271.2,713.0 L1273.2,713.0 L1275.2,713.0 L1277.2,713.0 L1279.2,713.0 L1281.2,713.0 L1283.2,713.0 L1285.2,713.0 L1287.2,713.0 L1289.3,713.0 L1291.3,713.0 L1293.3,713.0 L1295.3,713.0 L1297.3,713.0 L1299.3,713.0 L1301.3,713.0 L1303.3,713.0 L1305.3,713.0 L1307.3,713.0 L1309.3,713.0 L1311.4,713.0 L1313.4,713.0 L1315.4,713.0 L1317.4,713.0 L1319.4,713.0 L1321.4,713.0 L1323.4,713.0 L1325.4,713.0 L1327.4,713.0 L1329.4,713.0 L1331.5,713.0 L1333.5,713.0 L1335.5,713.0 L1337.5,713.0 L1339.5,713.0 L1341.5,713.0 L1343.5,713.0 L1345.5,713.0 L1347.5,713.0 L1349.5,713.0 L1351.5,713.0 L1353.6,713.0 L1355.6,713.0 L1357.6,713.0 L1359.6,713.0 L1361.6,713.0 L1363.6,713.0 L1365.6,713.0 L1367.6,713.0 L1369.6,713.0 L1371.6,713.0 L1373.7,713.0 L1375.7,713.0 L1377.7,713.0 L1379.7,713.0 L1381.7,713.0 L1383.7,713.0 L1385.7,713.0 L1387.7,713.0 L1389.7,713.0 L1391.7,713.0 L1393.7,713.0 L1395.8,713.0 L1397.8,713.0 L1399.8,713.0 L1401.8,713.0 L1403.8,713.0 L1405.8,713.0 L1407.8,713.0 L1409.8,713.0 L1411.8,713.0 L1413.8,713.0 L1415.9,713.0 L1417.9,713.0 L1419.9,713.0 L1421.9,713.0 L1423.9,713.0 L1425.9,713.0 L1427.9,713.0 L1429.9,713.0 L1431.9,713.0 L1433.9,713.0 L1435.9,713.0 L1438.0,713.0 L1440.0,713.0 L1442.0,713.0 L1444.0,713.0 L1446.0,713.0 L1448.0,713.0 L1450.0,713.0 L1452.0,713.0 L1454.0,713.0 L1456.0,713.0 L1458.0,713.0 L1460.1,713.0 L1462.1,713.0 L1464.1,713.0 L1466.1,713.0 L1468.1,713.0 L1470.1,713.0 L1472.1,713.0 L1474.1,713.0 L1476.1,713.0 L1478.1,713.0 L1480.2,713.0 L1482.2,713.0 L1484.2,713.0 L1486.2,713.0 L1488.2,713.0 L1490.2,713.0 L1492.2,713.0 L1494.2,713.0 L1496.2,713.0 L1498.2,713.0 L1500.2,713.0 L1502.3,713.0 L1504.3,713.0 L1506.3,713.0 L1508.3,713.0 L1510.3,713.0 L1512.3,713.0 L1514.3,713.0 L1516.3,713.0 L1518.3,713.0 L1520.3,713.0 L1522.3,713.0 L1524.3,713.0 L1526.3,713.0 L1528.3,713.0 L1530.3,713.0 L1532.3,713.0 L1534.3,713.0 L1536.3,711.3 L1538.3,711.0 L1540.2,710.5 L1542.2,710.1 L1544.1,709.6 L1546.1,709.0 L1548.0,708.4 L1549.9,707.7 L1551.7,707.0 L1553.6,706.2 L1555.4,705.3 L1557.2,704.4 L1558.9,703.4 L1560.6,702.3 L1562.2,701.1 L1563.8,699.9 L1565.4,698.7 L1566.9,697.3 L1568.4,695.9 L1569.8,694.5 L1571.1,693.0 L1572.4,691.5 L1573.7,689.9 L1574.9,688.3 L1576.0,686.7 L1577.1,685.0 L1578.2,683.3 L1579.3,681.6 L1580.2,679.8 L1581.2,678.0 L1582.1,676.3 L1583.0,674.5 L1583.9,672.6 L1584.7,670.8 L1585.5,669.0 L1586.3,667.1 L1587.1,665.3 L1587.8,663.4 L1588.5,661.5 L1589.2,659.6 L1589.9,657.8 L1590.6,655.9 L1591.3,654.0 L1591.9,652.1 L1592.6,650.2 L1593.2,648.3 L1593.9,646.4 L1594.5,644.5 L1595.1,642.5 L1595.7,640.6 L1596.3,638.7 L1596.9,636.8 L1597.5,634.9 L1598.1,633.0 L1598.7,631.0 L1599.3,629.1 L1599.9,627.2 L1600.4,625.3 L1601.0,623.3 L1601.6,621.4 L1602.1,619.5 L1602.7,617.5 L1603.2,615.6 L1603.8,613.7 L1604.3,611.7 L1604.8,609.8 L1605.4,607.9 L1605.9,605.9 L1606.5,604.0 L1607.0,602.1 L1607.5,600.1 L1608.0,598.2 L1608.6,596.2 L1609.1,594.3 L1609.6,592.4 L1610.1,590.4 L1610.6,588.5 L1611.2,586.5 L1611.7,584.6 L1612.2,582.6 L1612.7,580.7 L1613.2,578.8 L1613.8,576.8 L1614.3,574.9 L1614.8,572.9 L1615.3,571.0 L1615.8,569.1 L1616.3,567.1 L1616.9,565.2 L1617.4,563.2 L1617.9,561.3 L1618.4,559.4 L1619.0,557.4 L1619.5,555.5 L1620.0,553.5 L1620.6,551.6 L1621.1,549.7 L1621.7,547.7 L1622.2,545.8 L1622.8,543.9 L1623.3,541.9 L1623.9,540.0 L1624.4,538.1 L1625.0,536.1 L1625.6,534.2 L1626.1,532.3 L1626.7,530.4 L1627.3,528.4 L1627.9,526.5 L1628.5,524.6 L1629.1,522.7 L1629.7,520.8 L1630.3,518.9 L1630.9,516.9 L1631.6,515.0 L1632.2,513.1 L1632.8,511.2 L1633.5,509.3 L1634.1,507.4 L1634.8,505.5 L1635.5,503.6 L1636.1,501.7 L1636.8,499.9 L1637.5,498.0 L1638.2,496.1 L1639.0,494.2 L1639.7,492.3 L1640.4,490.5 L1641.2,488.6 L1641.9,486.7 L1642.7,484.9 L1643.5,483.0 L1644.3,481.2 L1645.1,479.3 L1645.9,477.5 L1646.7,475.7 L1647.5,473.8 L1648.4,472.0 L1649.3,470.2 L1650.1,468.4 L1651.0,466.6 L1652.0,464.8 L1652.9,463.0 L1653.8,461.3 L1654.8,459.5 L1655.8,457.7 L1656.8,456.0 L1657.8,454.3 L1658.8,452.5 L1659.9,450.8 L1660.9,449.1 L1662.0,447.4 L1663.1,445.8 L1664.3,444.1 L1665.4,442.5 L1666.6,440.8 L1667.8,439.2 L1669.0,437.6 L1670.3,436.1 L1671.5,434.5 L1672.8,433.0 L1674.2,431.4 L1675.5,430.0 L1676.9,428.5 L1678.3,427.0 L1679.7,425.6 L1681.1,424.2 L1682.6,422.8 L1684.1,421.5 L1685.6,420.2 L1687.1,418.9 L1688.7,417.6 L1690.3,416.4 L1691.9,415.2 L1693.5,414.0 L1695.2,412.9 L1696.9,411.8 L1698.6,410.7 L1700.3,409.7 L1702.0,408.7 L1703.8,407.7 L1705.5,406.7 L1707.3,405.8 L1709.1,404.9 L1710.9,404.0 L1712.7,403.1 L1714.6,402.3 L1716.4,401.4 L1718.2,400.6 L1720.0,399.8 L1721.9,399.0 L1723.7,398.2 L1725.6,397.4 L1727.4,396.6 L1729.3,395.9 L1731.2,395.1 L1733.0,394.3 L1734.9,393.6 L1736.7,392.8 L1738.6,392.0 L1740.4,391.3 L1742.3,390.5 L1744.1,389.7 L1746.0,388.9 L1747.8,388.1 L1749.7,387.3 L1751.5,386.4 L1753.3,385.6 L1755.1,384.7 L1756.9,383.9 L1758.7,383.0 L1760.5,382.0 L1762.3,381.1"/>
</g>
<line x1="1314.7" y1="491.2" x2="1253.2" y2="711.9" stroke="#000" stroke-width="1.1"/>
<polygon fill="#000" points="1253.1,712.4 1253.9,688.7 1257.7,695.7 1264.5,691.7"/>
<line x1="1449.6" y1="487.0" x2="1391.8" y2="711.9" stroke="#000" stroke-width="1.1"/>
<polygon fill="#000" points="1391.7,712.4 1392.1,688.7 1396.0,695.6 1402.7,691.5"/>
<line x1="1662.5" y1="429.1" x2="1572.8" y2="711.9" stroke="#000" stroke-width="1.1"/>
<polygon fill="#000" points="1572.6,712.4 1574.4,688.8 1577.9,695.9 1584.8,692.1"/>
<line x1="265.5" y1="971.5" x2="411.5" y2="971.5" stroke="#008000" stroke-width="5" stroke-linecap="round"/>
<line x1="265.5" y1="1070.5" x2="411.5" y2="1070.5" stroke="#0000ff" stroke-width="5" stroke-linecap="round"/>
<line x1="265.5" y1="1169.5" x2="411.5" y2="1169.5" stroke="#ff0000" stroke-width="5" stroke-linecap="round"/>
<text x="998.2" y="67.7" font-size="64.7" text-anchor="middle">Energy of photons, eV</text>
<text x="998.0" y="1636.6" font-size="64.3" text-anchor="middle">Wavelength, nm</text>
<text x="76.5" y="790" font-size="65" text-anchor="middle" transform="rotate(-90 76.5 790)">Absorbance (normalized)</text>
<text x="1906" y="822.7" font-size="65" text-anchor="middle" transform="rotate(-90 1906 822.7)">PL Intensity (normalized)</text>
<text x="320.2" y="154.9" font-size="53.5" text-anchor="middle">3</text>
<text x="549.1" y="154.9" font-size="53.5" text-anchor="middle" letter-spacing="0.8">2.8</text>
<text x="812.6" y="154.9" font-size="53.5" text-anchor="middle" letter-spacing="0.8">2.6</text>
<text x="1120.2" y="154.9" font-size="53.5" text-anchor="middle" letter-spacing="0.8">2.4</text>
<text x="1483.6" y="154.9" font-size="53.5" text-anchor="middle" letter-spacing="0.8">2.2</text>
<text x="217.4" y="1535.5" font-size="53.5" text-anchor="middle" letter-spacing="0.8">400</text>
<text x="608.2" y="1535.5" font-size="53.5" text-anchor="middle" letter-spacing="0.8">450</text>
<text x="998.9" y="1535.5" font-size="53.5" text-anchor="middle" letter-spacing="0.8">500</text>
<text x="1389.6" y="1535.5" font-size="53.5" text-anchor="middle" letter-spacing="0.8">550</text>
<text x="1780.4" y="1535.5" font-size="53.5" text-anchor="middle" letter-spacing="0.8">600</text>
<text x="176" y="209" font-size="53.5" text-anchor="end">2</text>
<text x="176" y="839" font-size="53.5" text-anchor="end">1</text>
<text x="176" y="1469" font-size="53.5" text-anchor="end">0</text>
<text x="1807" y="209" font-size="53.5" text-anchor="start">2</text>
<text x="1807" y="1469" font-size="53.5" text-anchor="start">0</text>
<text x="427.6" y="993.5" font-size="65.3">CsPbBr<tspan font-size="38" dy="22.4">3</tspan></text>
<text x="427.6" y="1092.6" font-size="65.3">CsPb(Cl/Br)<tspan font-size="38" dy="22.4">3</tspan></text>
<text x="427.6" y="1191.6" font-size="65.3">CsPb(I/Br)<tspan font-size="38" dy="22.4">3</tspan></text>
<text x="1248.6" y="770.9" font-size="58" text-anchor="middle">2.26</text>
<text x="1389.4" y="770.9" font-size="58" text-anchor="middle">2.39</text>
<text x="1572.4" y="770.9" font-size="58" text-anchor="middle">2.56</text>
<text x="1494.3" y="835.2" font-size="50.7" text-anchor="middle">Energy, eV</text>
<text x="1154.6" y="725.6" font-size="42" text-anchor="start">0</text>
<g transform="translate(1130,561) rotate(-90)"><text font-size="68.5" y="0"><tspan x="-2.7">(</tspan><tspan x="18.2">A</tspan><tspan x="68.2">-</tspan><tspan x="89.9">h</tspan><tspan x="123" font-size="74.7">ν</tspan><tspan x="157">)</tspan><tspan x="179.4" y="-32.9" font-size="41.5">2</tspan></text></g>
</svg>
</body></html>
